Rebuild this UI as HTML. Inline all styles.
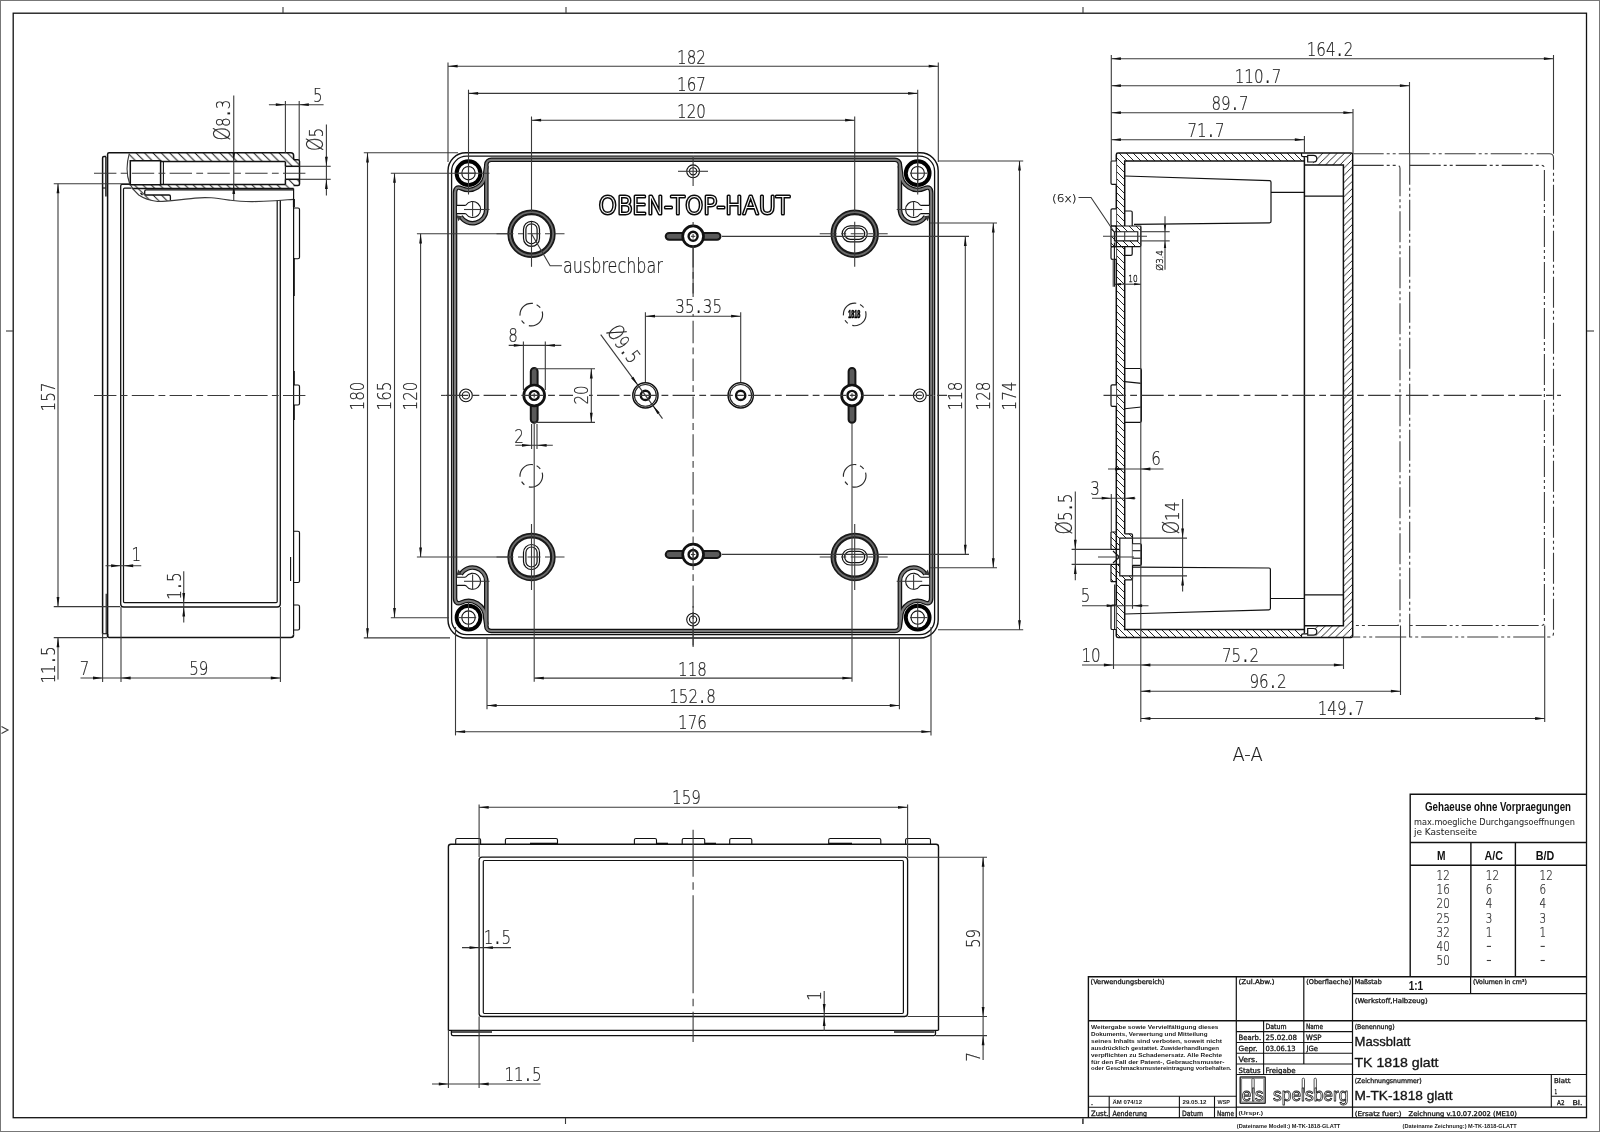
<!DOCTYPE html>
<html><head><meta charset="utf-8"><title>M-TK-1818 glatt</title>
<style>
html,body{margin:0;padding:0;background:#fff;}
svg{display:block;filter:grayscale(1);font-family:"DejaVu Sans Light","DejaVu Sans","Liberation Sans",sans-serif;}
</style></head><body>
<svg width="1600" height="1132" viewBox="0 0 1600 1132">
<rect x="0" y="0" width="1600" height="1132" fill="#fff"/>
<rect x="0.5" y="0.5" width="1599" height="1131" fill="none" stroke="#777" stroke-width="1"/>
<rect x="13.2" y="13.2" width="1573.3" height="1104.5" fill="none" stroke="#111" stroke-width="1.3"/>
<line x1="283.00" y1="7.00" x2="283.00" y2="13.00" stroke="#3a3a3a" stroke-width="1.1"/>
<line x1="566.00" y1="7.00" x2="566.00" y2="13.00" stroke="#3a3a3a" stroke-width="1.1"/>
<line x1="1083.00" y1="7.00" x2="1083.00" y2="13.00" stroke="#3a3a3a" stroke-width="1.1"/>
<line x1="565.50" y1="1118.00" x2="565.50" y2="1124.00" stroke="#3a3a3a" stroke-width="1.1"/>
<line x1="1083.00" y1="1118.00" x2="1083.00" y2="1124.00" stroke="#3a3a3a" stroke-width="1.1"/>
<line x1="6.00" y1="331.00" x2="13.00" y2="331.00" stroke="#3a3a3a" stroke-width="1.1"/>
<line x1="1587.00" y1="331.00" x2="1594.00" y2="331.00" stroke="#3a3a3a" stroke-width="1.1"/>
<path d="M1.5,726.5 L8,730 L1.5,733.5" stroke="#3a3a3a" stroke-width="1.1" fill="none" />
<g transform="translate(693.1,395.4) scale(1,1) translate(-693.1,-395.4)">
<path d="M693.1,152.8 H466 A18,18 0 0 0 448,170.8 V395.4" stroke="#111" stroke-width="1.4" fill="none" />
<path d="M693.1,156.2 H466.6 A15,15 0 0 0 451.6,171.2 V395.4" stroke="#111" stroke-width="1.3" fill="none" />
<path d="M693.1,159.8 H491.3 A5,5 0 0 0 486.3,164.6 V209.5 A13.8,13.8 0 0 1 460.6,216.4" stroke="#111" stroke-width="4.6" fill="none" />
<path d="M486.3,166 L485.2,173.2 A16.7,16.7 0 0 1 461.44,188.33 C457,186.3 455,188.5 455,193 V395.4" stroke="#111" stroke-width="4.6" fill="none" />
<path d="M693.1,159.8 H491.3 A5,5 0 0 0 486.3,164.6 V209.5 A13.8,13.8 0 0 1 460.6,216.4" stroke="#7a7a7a" stroke-width="2.2" fill="none" />
<path d="M486.3,166 L485.2,173.2 A16.7,16.7 0 0 1 461.44,188.33 C457,186.3 455,188.5 455,193 V395.4" stroke="#7a7a7a" stroke-width="2.2" fill="none" />
<circle cx="468.50" cy="173.20" r="11.90" stroke="#000" stroke-width="3.9" fill="#fff"/>
<circle cx="468.50" cy="173.20" r="6.70" stroke="#111" stroke-width="1.1" fill="none"/>
<line x1="468.50" y1="162.00" x2="468.50" y2="188.60" stroke="#3a3a3a" stroke-width="1.1"/>
<line x1="458.60" y1="173.20" x2="476.20" y2="173.20" stroke="#3a3a3a" stroke-width="1.1"/>
<path d="M457,205.4 H464.8 L466,205 A8,8 0 1 1 466,214 L464.8,213.6 H457" stroke="#111" stroke-width="1.1" fill="#fff" />
<line x1="464.00" y1="209.50" x2="489.50" y2="209.50" stroke="#3a3a3a" stroke-width="1.1"/>
<line x1="472.60" y1="201.50" x2="472.60" y2="216.40" stroke="#3a3a3a" stroke-width="1.1"/>
<path d="M457.2,216 L461,216.6 L458.6,220 Z" stroke="#333" stroke-width="1.1" fill="#444" />
</g>
<g transform="translate(693.1,395.4) scale(1,-1) translate(-693.1,-395.4)">
<path d="M693.1,152.8 H466 A18,18 0 0 0 448,170.8 V395.4" stroke="#111" stroke-width="1.4" fill="none" />
<path d="M693.1,156.2 H466.6 A15,15 0 0 0 451.6,171.2 V395.4" stroke="#111" stroke-width="1.3" fill="none" />
<path d="M693.1,159.8 H491.3 A5,5 0 0 0 486.3,164.6 V209.5 A13.8,13.8 0 0 1 460.6,216.4" stroke="#111" stroke-width="4.6" fill="none" />
<path d="M486.3,166 L485.2,173.2 A16.7,16.7 0 0 1 461.44,188.33 C457,186.3 455,188.5 455,193 V395.4" stroke="#111" stroke-width="4.6" fill="none" />
<path d="M693.1,159.8 H491.3 A5,5 0 0 0 486.3,164.6 V209.5 A13.8,13.8 0 0 1 460.6,216.4" stroke="#7a7a7a" stroke-width="2.2" fill="none" />
<path d="M486.3,166 L485.2,173.2 A16.7,16.7 0 0 1 461.44,188.33 C457,186.3 455,188.5 455,193 V395.4" stroke="#7a7a7a" stroke-width="2.2" fill="none" />
<circle cx="468.50" cy="173.20" r="11.90" stroke="#000" stroke-width="3.9" fill="#fff"/>
<circle cx="468.50" cy="173.20" r="6.70" stroke="#111" stroke-width="1.1" fill="none"/>
<line x1="468.50" y1="162.00" x2="468.50" y2="188.60" stroke="#3a3a3a" stroke-width="1.1"/>
<line x1="458.60" y1="173.20" x2="476.20" y2="173.20" stroke="#3a3a3a" stroke-width="1.1"/>
<path d="M457,205.4 H464.8 L466,205 A8,8 0 1 1 466,214 L464.8,213.6 H457" stroke="#111" stroke-width="1.1" fill="#fff" />
<line x1="464.00" y1="209.50" x2="489.50" y2="209.50" stroke="#3a3a3a" stroke-width="1.1"/>
<line x1="472.60" y1="201.50" x2="472.60" y2="216.40" stroke="#3a3a3a" stroke-width="1.1"/>
<path d="M457.2,216 L461,216.6 L458.6,220 Z" stroke="#333" stroke-width="1.1" fill="#444" />
</g>
<g transform="translate(693.1,395.4) scale(-1,1) translate(-693.1,-395.4)">
<path d="M693.1,152.8 H466 A18,18 0 0 0 448,170.8 V395.4" stroke="#111" stroke-width="1.4" fill="none" />
<path d="M693.1,156.2 H466.6 A15,15 0 0 0 451.6,171.2 V395.4" stroke="#111" stroke-width="1.3" fill="none" />
<path d="M693.1,159.8 H491.3 A5,5 0 0 0 486.3,164.6 V209.5 A13.8,13.8 0 0 1 460.6,216.4" stroke="#111" stroke-width="4.6" fill="none" />
<path d="M486.3,166 L485.2,173.2 A16.7,16.7 0 0 1 461.44,188.33 C457,186.3 455,188.5 455,193 V395.4" stroke="#111" stroke-width="4.6" fill="none" />
<path d="M693.1,159.8 H491.3 A5,5 0 0 0 486.3,164.6 V209.5 A13.8,13.8 0 0 1 460.6,216.4" stroke="#7a7a7a" stroke-width="2.2" fill="none" />
<path d="M486.3,166 L485.2,173.2 A16.7,16.7 0 0 1 461.44,188.33 C457,186.3 455,188.5 455,193 V395.4" stroke="#7a7a7a" stroke-width="2.2" fill="none" />
<circle cx="468.50" cy="173.20" r="11.90" stroke="#000" stroke-width="3.9" fill="#fff"/>
<circle cx="468.50" cy="173.20" r="6.70" stroke="#111" stroke-width="1.1" fill="none"/>
<line x1="468.50" y1="162.00" x2="468.50" y2="188.60" stroke="#3a3a3a" stroke-width="1.1"/>
<line x1="458.60" y1="173.20" x2="476.20" y2="173.20" stroke="#3a3a3a" stroke-width="1.1"/>
<path d="M457,205.4 H464.8 L466,205 A8,8 0 1 1 466,214 L464.8,213.6 H457" stroke="#111" stroke-width="1.1" fill="#fff" />
<line x1="464.00" y1="209.50" x2="489.50" y2="209.50" stroke="#3a3a3a" stroke-width="1.1"/>
<line x1="472.60" y1="201.50" x2="472.60" y2="216.40" stroke="#3a3a3a" stroke-width="1.1"/>
<path d="M457.2,216 L461,216.6 L458.6,220 Z" stroke="#333" stroke-width="1.1" fill="#444" />
</g>
<g transform="translate(693.1,395.4) scale(-1,-1) translate(-693.1,-395.4)">
<path d="M693.1,152.8 H466 A18,18 0 0 0 448,170.8 V395.4" stroke="#111" stroke-width="1.4" fill="none" />
<path d="M693.1,156.2 H466.6 A15,15 0 0 0 451.6,171.2 V395.4" stroke="#111" stroke-width="1.3" fill="none" />
<path d="M693.1,159.8 H491.3 A5,5 0 0 0 486.3,164.6 V209.5 A13.8,13.8 0 0 1 460.6,216.4" stroke="#111" stroke-width="4.6" fill="none" />
<path d="M486.3,166 L485.2,173.2 A16.7,16.7 0 0 1 461.44,188.33 C457,186.3 455,188.5 455,193 V395.4" stroke="#111" stroke-width="4.6" fill="none" />
<path d="M693.1,159.8 H491.3 A5,5 0 0 0 486.3,164.6 V209.5 A13.8,13.8 0 0 1 460.6,216.4" stroke="#7a7a7a" stroke-width="2.2" fill="none" />
<path d="M486.3,166 L485.2,173.2 A16.7,16.7 0 0 1 461.44,188.33 C457,186.3 455,188.5 455,193 V395.4" stroke="#7a7a7a" stroke-width="2.2" fill="none" />
<circle cx="468.50" cy="173.20" r="11.90" stroke="#000" stroke-width="3.9" fill="#fff"/>
<circle cx="468.50" cy="173.20" r="6.70" stroke="#111" stroke-width="1.1" fill="none"/>
<line x1="468.50" y1="162.00" x2="468.50" y2="188.60" stroke="#3a3a3a" stroke-width="1.1"/>
<line x1="458.60" y1="173.20" x2="476.20" y2="173.20" stroke="#3a3a3a" stroke-width="1.1"/>
<path d="M457,205.4 H464.8 L466,205 A8,8 0 1 1 466,214 L464.8,213.6 H457" stroke="#111" stroke-width="1.1" fill="#fff" />
<line x1="464.00" y1="209.50" x2="489.50" y2="209.50" stroke="#3a3a3a" stroke-width="1.1"/>
<line x1="472.60" y1="201.50" x2="472.60" y2="216.40" stroke="#3a3a3a" stroke-width="1.1"/>
<path d="M457.2,216 L461,216.6 L458.6,220 Z" stroke="#333" stroke-width="1.1" fill="#444" />
</g>
<circle cx="531.50" cy="233.80" r="21.40" stroke="#1a1a1a" stroke-width="5.6" fill="#fff"/>
<circle cx="531.50" cy="233.80" r="21.60" stroke="#6a6a6a" stroke-width="1.8" fill="none"/>
<rect x="523.50" y="221.30" width="16.00" height="25.00" rx="8" stroke="#111" stroke-width="1.2" fill="none"/>
<rect x="525.90" y="223.80" width="11.20" height="20.00" rx="5.6" stroke="#111" stroke-width="1.2" fill="none"/>
<line x1="496.50" y1="233.80" x2="564.50" y2="233.80" stroke="#3a3a3a" stroke-width="1.1" stroke-dasharray="17 4.5 5 4.5 13 4.5 5 4.5 17"/>
<line x1="531.50" y1="221.80" x2="531.50" y2="266.80" stroke="#3a3a3a" stroke-width="1.1"/>
<circle cx="854.70" cy="233.80" r="21.40" stroke="#1a1a1a" stroke-width="5.6" fill="#fff"/>
<circle cx="854.70" cy="233.80" r="21.60" stroke="#6a6a6a" stroke-width="1.8" fill="none"/>
<rect x="842.20" y="225.80" width="25.00" height="16.00" rx="8" stroke="#111" stroke-width="1.2" fill="none"/>
<rect x="844.70" y="228.20" width="20.00" height="11.20" rx="5.6" stroke="#111" stroke-width="1.2" fill="none"/>
<line x1="819.70" y1="233.80" x2="887.70" y2="233.80" stroke="#3a3a3a" stroke-width="1.1" stroke-dasharray="17 4.5 5 4.5 13 4.5 5 4.5 17"/>
<line x1="854.70" y1="221.80" x2="854.70" y2="266.80" stroke="#3a3a3a" stroke-width="1.1"/>
<circle cx="531.50" cy="557.00" r="21.40" stroke="#1a1a1a" stroke-width="5.6" fill="#fff"/>
<circle cx="531.50" cy="557.00" r="21.60" stroke="#6a6a6a" stroke-width="1.8" fill="none"/>
<rect x="523.50" y="544.50" width="16.00" height="25.00" rx="8" stroke="#111" stroke-width="1.2" fill="none"/>
<rect x="525.90" y="547.00" width="11.20" height="20.00" rx="5.6" stroke="#111" stroke-width="1.2" fill="none"/>
<line x1="496.50" y1="557.00" x2="564.50" y2="557.00" stroke="#3a3a3a" stroke-width="1.1" stroke-dasharray="17 4.5 5 4.5 13 4.5 5 4.5 17"/>
<line x1="531.50" y1="524.00" x2="531.50" y2="590.00" stroke="#3a3a3a" stroke-width="1.1"/>
<circle cx="854.70" cy="557.00" r="21.40" stroke="#1a1a1a" stroke-width="5.6" fill="#fff"/>
<circle cx="854.70" cy="557.00" r="21.60" stroke="#6a6a6a" stroke-width="1.8" fill="none"/>
<rect x="842.20" y="549.00" width="25.00" height="16.00" rx="8" stroke="#111" stroke-width="1.2" fill="none"/>
<rect x="844.70" y="551.40" width="20.00" height="11.20" rx="5.6" stroke="#111" stroke-width="1.2" fill="none"/>
<line x1="819.70" y1="557.00" x2="887.70" y2="557.00" stroke="#3a3a3a" stroke-width="1.1" stroke-dasharray="17 4.5 5 4.5 13 4.5 5 4.5 17"/>
<line x1="854.70" y1="524.00" x2="854.70" y2="590.00" stroke="#3a3a3a" stroke-width="1.1"/>
<g transform="translate(693.1,236.3) rotate(0)">
<rect x="-27.40" y="-3.40" width="54.80" height="6.80" rx="3.4" stroke="#151515" stroke-width="2.0" fill="#5a5a5a"/>
<circle cx="0.00" cy="0.00" r="10.40" stroke="#111" stroke-width="2.7" fill="#fff"/>
<circle cx="0.00" cy="0.00" r="4.50" stroke="#111" stroke-width="2.4" fill="#fff"/>
<line x1="-2.20" y1="0.00" x2="2.20" y2="0.00" stroke="#3a3a3a" stroke-width="1.1"/>
<line x1="0.00" y1="-2.20" x2="0.00" y2="2.20" stroke="#3a3a3a" stroke-width="1.1"/>
</g>
<g transform="translate(693.1,554.5) rotate(0)">
<rect x="-27.40" y="-3.40" width="54.80" height="6.80" rx="3.4" stroke="#151515" stroke-width="2.0" fill="#5a5a5a"/>
<circle cx="0.00" cy="0.00" r="10.40" stroke="#111" stroke-width="2.7" fill="#fff"/>
<circle cx="0.00" cy="0.00" r="4.50" stroke="#111" stroke-width="2.4" fill="#fff"/>
<line x1="-2.20" y1="0.00" x2="2.20" y2="0.00" stroke="#3a3a3a" stroke-width="1.1"/>
<line x1="0.00" y1="-2.20" x2="0.00" y2="2.20" stroke="#3a3a3a" stroke-width="1.1"/>
</g>
<g transform="translate(534.2,395.4) rotate(90)">
<rect x="-27.40" y="-3.40" width="54.80" height="6.80" rx="3.4" stroke="#151515" stroke-width="2.0" fill="#5a5a5a"/>
<circle cx="0.00" cy="0.00" r="10.40" stroke="#111" stroke-width="2.7" fill="#fff"/>
<circle cx="0.00" cy="0.00" r="4.50" stroke="#111" stroke-width="2.4" fill="#fff"/>
<line x1="-2.20" y1="0.00" x2="2.20" y2="0.00" stroke="#3a3a3a" stroke-width="1.1"/>
<line x1="0.00" y1="-2.20" x2="0.00" y2="2.20" stroke="#3a3a3a" stroke-width="1.1"/>
</g>
<g transform="translate(852.0,395.4) rotate(90)">
<rect x="-27.40" y="-3.40" width="54.80" height="6.80" rx="3.4" stroke="#151515" stroke-width="2.0" fill="#5a5a5a"/>
<circle cx="0.00" cy="0.00" r="10.40" stroke="#111" stroke-width="2.7" fill="#fff"/>
<circle cx="0.00" cy="0.00" r="4.50" stroke="#111" stroke-width="2.4" fill="#fff"/>
<line x1="-2.20" y1="0.00" x2="2.20" y2="0.00" stroke="#3a3a3a" stroke-width="1.1"/>
<line x1="0.00" y1="-2.20" x2="0.00" y2="2.20" stroke="#3a3a3a" stroke-width="1.1"/>
</g>
<circle cx="645.40" cy="395.40" r="12.60" stroke="#111" stroke-width="1.5" fill="#fff"/>
<circle cx="645.40" cy="395.40" r="10.90" stroke="#222" stroke-width="1.1" fill="none"/>
<circle cx="645.40" cy="395.40" r="4.60" stroke="#111" stroke-width="2.4" fill="#fff"/>
<circle cx="740.70" cy="395.40" r="12.60" stroke="#111" stroke-width="1.5" fill="#fff"/>
<circle cx="740.70" cy="395.40" r="10.90" stroke="#222" stroke-width="1.1" fill="none"/>
<circle cx="740.70" cy="395.40" r="4.60" stroke="#111" stroke-width="2.4" fill="#fff"/>
<circle cx="693.10" cy="171.30" r="6.40" stroke="#111" stroke-width="1.1" fill="#fff"/>
<circle cx="693.10" cy="171.30" r="3.60" stroke="#111" stroke-width="1.1" fill="none"/>
<circle cx="693.10" cy="619.60" r="6.40" stroke="#111" stroke-width="1.1" fill="#fff"/>
<circle cx="693.10" cy="619.60" r="3.60" stroke="#111" stroke-width="1.1" fill="none"/>
<circle cx="465.90" cy="395.40" r="6.40" stroke="#111" stroke-width="1.1" fill="#fff"/>
<circle cx="465.90" cy="395.40" r="3.60" stroke="#111" stroke-width="1.1" fill="none"/>
<circle cx="919.80" cy="395.40" r="6.40" stroke="#111" stroke-width="1.1" fill="#fff"/>
<circle cx="919.80" cy="395.40" r="3.60" stroke="#111" stroke-width="1.1" fill="none"/>
<line x1="693.10" y1="157.00" x2="693.10" y2="186.00" stroke="#3a3a3a" stroke-width="1.1"/>
<line x1="678.00" y1="171.30" x2="708.00" y2="171.30" stroke="#3a3a3a" stroke-width="1.1"/>
<line x1="693.10" y1="606.00" x2="693.10" y2="647.00" stroke="#3a3a3a" stroke-width="1.1"/>
<circle cx="531.3" cy="314.6" r="11.3" fill="none" stroke="#2a2a2a" stroke-width="1.15" stroke-dasharray="23.7 4.9 4.1 5.1 20.3 3.9 4.7 4.2" stroke-dashoffset="3.55"/>
<circle cx="531.3" cy="475.8" r="11.3" fill="none" stroke="#2a2a2a" stroke-width="1.15" stroke-dasharray="23.7 4.9 4.1 5.1 20.3 3.9 4.7 4.2" stroke-dashoffset="3.55"/>
<circle cx="854.7" cy="475.8" r="11.3" fill="none" stroke="#2a2a2a" stroke-width="1.15" stroke-dasharray="23.7 4.9 4.1 5.1 20.3 3.9 4.7 4.2" stroke-dashoffset="3.55"/>
<circle cx="854.7" cy="314.4" r="11.3" fill="none" stroke="#2a2a2a" stroke-width="1.15" stroke-dasharray="23.7 4.9 4.1 5.1 20.3 3.9 4.7 4.2" stroke-dashoffset="3.55"/>
<text x="854.30" y="318.10" font-size="10" text-anchor="middle" fill="#000" textLength="12.20" lengthAdjust="spacingAndGlyphs" font-family='"Liberation Sans",sans-serif' font-weight="bold" stroke="#000" stroke-width="0.7">1818</text>
<line x1="441.00" y1="395.40" x2="445.80" y2="395.40" stroke="#3a3a3a" stroke-width="1.1"/>
<line x1="445.80" y1="395.40" x2="947.00" y2="395.40" stroke="#3a3a3a" stroke-width="1.1" stroke-dasharray="22.4 4.3 6.8 4.3"/>
<line x1="693.10" y1="245.20" x2="693.10" y2="650.00" stroke="#3a3a3a" stroke-width="1.1" stroke-dasharray="22.4 4.3 6.8 4.3"/>
<line x1="693.10" y1="222.00" x2="693.10" y2="226.00" stroke="#3a3a3a" stroke-width="1.1"/>
<line x1="693.10" y1="247.00" x2="693.10" y2="293.60" stroke="#3a3a3a" stroke-width="1.1"/>
<text x="694.30" y="214.30" font-size="24.3" text-anchor="middle" fill="#fff" textLength="191.50" lengthAdjust="spacingAndGlyphs" font-family='"DejaVu Sans Light","DejaVu Sans",sans-serif' stroke="#0a0a0a" stroke-width="3.1" stroke-linejoin="round" stroke-linecap="round" paint-order="stroke">OBEN-TOP-HAUT</text>
<path d="M531.5,233.8 L550.1,265.7 H562" stroke="#3a3a3a" stroke-width="1.1" fill="none" />
<text transform="translate(563.00 272.50) scale(0.78 1)" font-size="20.50" text-anchor="start" fill="#1c1c1c" stroke="#1c1c1c" stroke-width="0.2">ausbrechbar</text>
<line x1="448.00" y1="62.50" x2="448.00" y2="162.00" stroke="#3a3a3a" stroke-width="1.1"/>
<line x1="938.30" y1="62.50" x2="938.30" y2="162.00" stroke="#3a3a3a" stroke-width="1.1"/>
<line x1="448.00" y1="66.20" x2="938.30" y2="66.20" stroke="#3a3a3a" stroke-width="1.1"/>
<polygon points="448.00,66.20 457.60,64.80 457.60,67.60" fill="#111"/>
<polygon points="938.30,66.20 928.70,67.60 928.70,64.80" fill="#111"/>
<text transform="translate(691.50 63.80) scale(0.76 1)" font-size="19.90" text-anchor="middle" fill="#1c1c1c" stroke="#1c1c1c" stroke-width="0.2">182</text>
<line x1="468.50" y1="89.70" x2="468.50" y2="194.50" stroke="#3a3a3a" stroke-width="1.1"/>
<line x1="917.70" y1="89.70" x2="917.70" y2="194.50" stroke="#3a3a3a" stroke-width="1.1"/>
<line x1="468.50" y1="93.40" x2="917.70" y2="93.40" stroke="#3a3a3a" stroke-width="1.1"/>
<polygon points="468.50,93.40 478.10,92.00 478.10,94.80" fill="#111"/>
<polygon points="917.70,93.40 908.10,94.80 908.10,92.00" fill="#111"/>
<text transform="translate(691.50 91.00) scale(0.76 1)" font-size="19.90" text-anchor="middle" fill="#1c1c1c" stroke="#1c1c1c" stroke-width="0.2">167</text>
<line x1="531.50" y1="116.50" x2="531.50" y2="212.00" stroke="#3a3a3a" stroke-width="1.1"/>
<line x1="854.70" y1="116.50" x2="854.70" y2="212.00" stroke="#3a3a3a" stroke-width="1.1"/>
<line x1="531.50" y1="120.20" x2="854.70" y2="120.20" stroke="#3a3a3a" stroke-width="1.1"/>
<polygon points="531.50,120.20 541.10,118.80 541.10,121.60" fill="#111"/>
<polygon points="854.70,120.20 845.10,121.60 845.10,118.80" fill="#111"/>
<text transform="translate(691.50 117.80) scale(0.76 1)" font-size="19.90" text-anchor="middle" fill="#1c1c1c" stroke="#1c1c1c" stroke-width="0.2">120</text>
<line x1="534.20" y1="423.00" x2="534.20" y2="681.80" stroke="#3a3a3a" stroke-width="1.1"/>
<line x1="852.00" y1="423.00" x2="852.00" y2="681.80" stroke="#3a3a3a" stroke-width="1.1"/>
<line x1="534.20" y1="678.10" x2="852.00" y2="678.10" stroke="#3a3a3a" stroke-width="1.1"/>
<polygon points="534.20,678.10 543.80,676.70 543.80,679.50" fill="#111"/>
<polygon points="852.00,678.10 842.40,679.50 842.40,676.70" fill="#111"/>
<text transform="translate(692.50 675.70) scale(0.76 1)" font-size="19.90" text-anchor="middle" fill="#1c1c1c" stroke="#1c1c1c" stroke-width="0.2">118</text>
<line x1="487.00" y1="637.00" x2="487.00" y2="709.20" stroke="#3a3a3a" stroke-width="1.1"/>
<line x1="899.40" y1="637.00" x2="899.40" y2="709.20" stroke="#3a3a3a" stroke-width="1.1"/>
<line x1="487.00" y1="705.50" x2="899.40" y2="705.50" stroke="#3a3a3a" stroke-width="1.1"/>
<polygon points="487.00,705.50 496.60,704.10 496.60,706.90" fill="#111"/>
<polygon points="899.40,705.50 889.80,706.90 889.80,704.10" fill="#111"/>
<text transform="translate(692.50 703.10) scale(0.76 1)" font-size="19.90" text-anchor="middle" fill="#1c1c1c" stroke="#1c1c1c" stroke-width="0.2">152<tspan dx="2.24" font-family="DejaVu Sans,sans-serif">.</tspan><tspan dx="2.24">8</tspan></text>
<line x1="455.50" y1="627.00" x2="455.50" y2="735.40" stroke="#3a3a3a" stroke-width="1.1"/>
<line x1="931.00" y1="627.00" x2="931.00" y2="735.40" stroke="#3a3a3a" stroke-width="1.1"/>
<line x1="455.50" y1="731.70" x2="931.00" y2="731.70" stroke="#3a3a3a" stroke-width="1.1"/>
<polygon points="455.50,731.70 465.10,730.30 465.10,733.10" fill="#111"/>
<polygon points="931.00,731.70 921.40,733.10 921.40,730.30" fill="#111"/>
<text transform="translate(692.50 729.30) scale(0.76 1)" font-size="19.90" text-anchor="middle" fill="#1c1c1c" stroke="#1c1c1c" stroke-width="0.2">176</text>
<line x1="363.80" y1="152.80" x2="458.00" y2="152.80" stroke="#3a3a3a" stroke-width="1.1"/>
<line x1="363.80" y1="637.90" x2="450.00" y2="637.90" stroke="#3a3a3a" stroke-width="1.1"/>
<line x1="367.50" y1="152.80" x2="367.50" y2="637.90" stroke="#3a3a3a" stroke-width="1.1"/>
<polygon points="367.50,152.80 368.90,162.40 366.10,162.40" fill="#111"/>
<polygon points="367.50,637.90 366.10,628.30 368.90,628.30" fill="#111"/>
<text transform="translate(364.30 396.00) rotate(-90) scale(0.76 1)" font-size="19.90" text-anchor="middle" fill="#1c1c1c" stroke="#1c1c1c" stroke-width="0.2">180</text>
<line x1="390.80" y1="173.20" x2="489.50" y2="173.20" stroke="#3a3a3a" stroke-width="1.1"/>
<line x1="390.80" y1="617.70" x2="449.00" y2="617.70" stroke="#3a3a3a" stroke-width="1.1"/>
<line x1="394.50" y1="173.20" x2="394.50" y2="617.70" stroke="#3a3a3a" stroke-width="1.1"/>
<polygon points="394.50,173.20 395.90,182.80 393.10,182.80" fill="#111"/>
<polygon points="394.50,617.70 393.10,608.10 395.90,608.10" fill="#111"/>
<text transform="translate(391.30 396.00) rotate(-90) scale(0.76 1)" font-size="19.90" text-anchor="middle" fill="#1c1c1c" stroke="#1c1c1c" stroke-width="0.2">165</text>
<line x1="416.90" y1="233.80" x2="512.00" y2="233.80" stroke="#3a3a3a" stroke-width="1.1"/>
<line x1="416.90" y1="557.00" x2="512.00" y2="557.00" stroke="#3a3a3a" stroke-width="1.1"/>
<line x1="420.60" y1="233.80" x2="420.60" y2="557.00" stroke="#3a3a3a" stroke-width="1.1"/>
<polygon points="420.60,233.80 422.00,243.40 419.20,243.40" fill="#111"/>
<polygon points="420.60,557.00 419.20,547.40 422.00,547.40" fill="#111"/>
<text transform="translate(417.40 396.00) rotate(-90) scale(0.76 1)" font-size="19.90" text-anchor="middle" fill="#1c1c1c" stroke="#1c1c1c" stroke-width="0.2">120</text>
<line x1="722.00" y1="236.40" x2="969.00" y2="236.40" stroke="#3a3a3a" stroke-width="1.1"/>
<line x1="722.00" y1="554.40" x2="969.00" y2="554.40" stroke="#3a3a3a" stroke-width="1.1"/>
<line x1="965.30" y1="236.40" x2="965.30" y2="554.40" stroke="#3a3a3a" stroke-width="1.1"/>
<polygon points="965.30,236.40 966.70,246.00 963.90,246.00" fill="#111"/>
<polygon points="965.30,554.40 963.90,544.80 966.70,544.80" fill="#111"/>
<text transform="translate(962.10 396.00) rotate(-90) scale(0.76 1)" font-size="19.90" text-anchor="middle" fill="#1c1c1c" stroke="#1c1c1c" stroke-width="0.2">118</text>
<line x1="930.00" y1="223.00" x2="997.00" y2="223.00" stroke="#3a3a3a" stroke-width="1.1"/>
<line x1="930.00" y1="567.80" x2="997.00" y2="567.80" stroke="#3a3a3a" stroke-width="1.1"/>
<line x1="993.30" y1="223.00" x2="993.30" y2="567.80" stroke="#3a3a3a" stroke-width="1.1"/>
<polygon points="993.30,223.00 994.70,232.60 991.90,232.60" fill="#111"/>
<polygon points="993.30,567.80 991.90,558.20 994.70,558.20" fill="#111"/>
<text transform="translate(990.10 396.00) rotate(-90) scale(0.76 1)" font-size="19.90" text-anchor="middle" fill="#1c1c1c" stroke="#1c1c1c" stroke-width="0.2">128</text>
<line x1="938.00" y1="161.00" x2="1023.20" y2="161.00" stroke="#3a3a3a" stroke-width="1.1"/>
<line x1="938.00" y1="629.80" x2="1023.20" y2="629.80" stroke="#3a3a3a" stroke-width="1.1"/>
<line x1="1019.50" y1="161.00" x2="1019.50" y2="629.80" stroke="#3a3a3a" stroke-width="1.1"/>
<polygon points="1019.50,161.00 1020.90,170.60 1018.10,170.60" fill="#111"/>
<polygon points="1019.50,629.80 1018.10,620.20 1020.90,620.20" fill="#111"/>
<text transform="translate(1016.30 396.00) rotate(-90) scale(0.76 1)" font-size="19.90" text-anchor="middle" fill="#1c1c1c" stroke="#1c1c1c" stroke-width="0.2">174</text>
<line x1="645.40" y1="312.30" x2="645.40" y2="382.00" stroke="#3a3a3a" stroke-width="1.1"/>
<line x1="740.70" y1="312.30" x2="740.70" y2="382.00" stroke="#3a3a3a" stroke-width="1.1"/>
<rect x="676.00" y="297.00" width="46.00" height="17.00" rx="0" stroke="none" stroke-width="0" fill="#fff"/>
<line x1="645.40" y1="316.20" x2="740.70" y2="316.20" stroke="#3a3a3a" stroke-width="1.1"/>
<polygon points="645.40,316.20 655.00,314.80 655.00,317.60" fill="#111"/>
<polygon points="740.70,316.20 731.10,317.60 731.10,314.80" fill="#111"/>
<text transform="translate(698.70 313.00) scale(0.76 1)" font-size="19.90" text-anchor="middle" fill="#1c1c1c" stroke="#1c1c1c" stroke-width="0.2">35<tspan dx="2.24" font-family="DejaVu Sans,sans-serif">.</tspan><tspan dx="2.24">35</tspan></text>
<line x1="523.40" y1="341.60" x2="523.40" y2="390.00" stroke="#3a3a3a" stroke-width="1.1"/>
<line x1="545.30" y1="341.60" x2="545.30" y2="390.00" stroke="#3a3a3a" stroke-width="1.1"/>
<line x1="508.70" y1="345.40" x2="561.30" y2="345.40" stroke="#3a3a3a" stroke-width="1.1"/>
<polygon points="523.40,345.40 513.80,346.80 513.80,344.00" fill="#111"/>
<polygon points="545.30,345.40 554.90,344.00 554.90,346.80" fill="#111"/>
<text transform="translate(513.00 341.80) scale(0.76 1)" font-size="19.90" text-anchor="middle" fill="#1c1c1c" stroke="#1c1c1c" stroke-width="0.2">8</text>
<line x1="534.20" y1="368.80" x2="595.00" y2="368.80" stroke="#3a3a3a" stroke-width="1.1"/>
<line x1="534.20" y1="422.40" x2="595.00" y2="422.40" stroke="#3a3a3a" stroke-width="1.1"/>
<rect x="573.00" y="384.00" width="16.00" height="22.00" rx="0" stroke="none" stroke-width="0" fill="#fff"/>
<line x1="591.30" y1="368.80" x2="591.30" y2="422.40" stroke="#3a3a3a" stroke-width="1.1"/>
<polygon points="591.30,368.80 592.70,378.40 589.90,378.40" fill="#111"/>
<polygon points="591.30,422.40 589.90,412.80 592.70,412.80" fill="#111"/>
<text transform="translate(588.00 395.00) rotate(-90) scale(0.76 1)" font-size="19.90" text-anchor="middle" fill="#1c1c1c" stroke="#1c1c1c" stroke-width="0.2">20</text>
<line x1="531.60" y1="424.00" x2="531.60" y2="449.00" stroke="#3a3a3a" stroke-width="1.1"/>
<line x1="537.00" y1="424.00" x2="537.00" y2="449.00" stroke="#3a3a3a" stroke-width="1.1"/>
<line x1="515.30" y1="445.30" x2="552.80" y2="445.30" stroke="#3a3a3a" stroke-width="1.1"/>
<polygon points="531.60,445.30 522.00,446.70 522.00,443.90" fill="#111"/>
<polygon points="537.00,445.30 546.60,443.90 546.60,446.70" fill="#111"/>
<text transform="translate(519.00 442.70) scale(0.76 1)" font-size="19.90" text-anchor="middle" fill="#1c1c1c" stroke="#1c1c1c" stroke-width="0.2">2</text>
<line x1="600.70" y1="334.60" x2="662.50" y2="418.60" stroke="#3a3a3a" stroke-width="1.1"/>
<polygon points="637.94,385.25 631.12,378.34 633.38,376.68" fill="#111"/>
<polygon points="652.86,405.55 659.68,412.46 657.42,414.12" fill="#111"/>
<text transform="translate(618.00 348.30) rotate(53.67677223794085) scale(0.76 1)" font-size="19.90" text-anchor="middle" fill="#1c1c1c" stroke="#1c1c1c" stroke-width="0.2"><tspan font-size="22.49">Ø</tspan>9<tspan dx="2.24" font-family="DejaVu Sans,sans-serif">.</tspan><tspan dx="2.24">5</tspan></text>
<defs>
<pattern id="hA" width="8.4" height="8.4" patternUnits="userSpaceOnUse"><path d="M-1,-1 L9.4,9.4 M-1,7.4 L1,9.4 M7.4,-1 L9.4,1" stroke="#111" stroke-width="0.95" fill="none"/></pattern>
<pattern id="hB" width="4.2" height="4.2" patternUnits="userSpaceOnUse"><path d="M-1,-1 L5.2,5.2 M-1,3.2 L1,5.2 M3.2,-1 L5.2,1" stroke="#111" stroke-width="0.8" fill="none"/></pattern>
<pattern id="hC" width="4.2" height="4.2" patternUnits="userSpaceOnUse"><path d="M-1,5.2 L5.2,-1 M-1,1 L1,-1 M3.2,5.2 L5.2,3.2" stroke="#111" stroke-width="0.8" fill="none"/></pattern>
</defs>
<path d="M129.5,152.8 H290.8 Q293.6,152.8 293.6,155.6 V158.6 Q293.6,159.8 295,159.8 H298 Q299.5,159.8 299.5,161.4 V166.3 H285.4 V161.6 H163.4 V160.8 H130.3 Q128.5,157 129.5,152.8 Z" stroke="none" stroke-width="0" fill="url(#hA)" />
<path d="M131,184.6 H285.4 V179.3 H299.5 V184 Q299.5,185.5 298,185.5 H293.6 V188.6 H131.9 Q130.5,186.5 131,184.6 Z" stroke="none" stroke-width="0" fill="url(#hA)" />
<path d="M131.9,188.6 H144.7 V195 H169.4 Q170.4,195 170.4,196 V200.6 Q160,202 151,200.6 Q139,196.5 131.9,188.6 Z" stroke="none" stroke-width="0" fill="url(#hA)" />
<path d="M108,640 M107.6,637 V154.3 Q107.6,152.8 109.1,152.8 H290.8 Q293.6,152.8 293.6,155.6 V158.6 Q293.6,159.8 295,159.8 H298 Q299.5,159.8 299.5,161.4 V184 Q299.5,185.5 298,185.5 H293.6" stroke="#111" stroke-width="1.5" fill="none" />
<path d="M102.6,633.75 V158 Q102.6,156.6 104,156.6 H106.2" stroke="#111" stroke-width="1.5" fill="none" />
<line x1="105.90" y1="157.00" x2="105.90" y2="196.60" stroke="#111" stroke-width="1.4"/>
<line x1="103.00" y1="188.00" x2="105.50" y2="188.00" stroke="#111" stroke-width="1.1"/>
<line x1="106.20" y1="593.75" x2="106.20" y2="633.75" stroke="#111" stroke-width="1.1"/>
<path d="M102.6,633.75 H107.6" stroke="#111" stroke-width="1.1" fill="none" />
<path d="M130.3,160.8 H160.6 V184.8 H130.3 Z" stroke="#111" stroke-width="1.5" fill="#fff" />
<line x1="163.40" y1="161.60" x2="163.40" y2="184.60" stroke="#111" stroke-width="1.1"/>
<line x1="160.60" y1="161.60" x2="285.40" y2="161.60" stroke="#111" stroke-width="1.5"/>
<line x1="160.60" y1="184.50" x2="285.40" y2="184.50" stroke="#111" stroke-width="1.5"/>
<line x1="285.40" y1="161.60" x2="285.40" y2="166.30" stroke="#111" stroke-width="1.5"/>
<line x1="285.40" y1="179.30" x2="285.40" y2="184.50" stroke="#111" stroke-width="1.5"/>
<line x1="285.40" y1="166.30" x2="299.50" y2="166.30" stroke="#111" stroke-width="1.5"/>
<line x1="285.40" y1="179.30" x2="299.50" y2="179.30" stroke="#111" stroke-width="1.5"/>
<line x1="285.40" y1="166.30" x2="285.40" y2="179.30" stroke="#111" stroke-width="1.1"/>
<line x1="131.90" y1="188.60" x2="293.60" y2="188.60" stroke="#111" stroke-width="1.5"/>
<path d="M293.6,189.9 H146.2 Q144.7,189.9 144.7,191.4 V193.5 Q144.7,195 146.2,195 H169 Q170.4,195 170.4,196.4 V200.6" stroke="#111" stroke-width="1.3" fill="none" />
<path d="M129.3,153.5 Q124.6,170 129.7,183.75 Q132.5,189.5 138.75,195 Q146,200 157.5,201.5 C170,201.2 182.5,199.4 195,198.1 S215,198 230.6,200.3 S262,201.6 275,200.8 S288,199.6 293.6,199.4" stroke="#3a3a3a" stroke-width="1.1" fill="none" />
<line x1="140.50" y1="193.00" x2="142.50" y2="195.00" stroke="#111" stroke-width="1.2"/>
<path d="M131,184.4 H122.2 Q120.7,184.4 120.7,185.9 V604 Q120.7,607 123.7,607 H277.3 Q280.3,607 280.3,604 V200.6" stroke="#111" stroke-width="1.3" fill="none" />
<path d="M131.5,188.1 H124.6 Q123.5,188.1 123.5,189.2 V601.6 Q123.5,602.6 124.5,602.6 H276.2 Q277.2,602.6 277.2,601.6 V200.8" stroke="#111" stroke-width="1.2" fill="none" />
<line x1="293.60" y1="188.60" x2="293.60" y2="634.50" stroke="#111" stroke-width="1.2"/>
<line x1="293.90" y1="199.00" x2="293.90" y2="207.00" stroke="#111" stroke-width="2.0"/>
<path d="M293.6,208 H298 Q299.5,208 299.5,209.5 V257.25 Q299.5,258.75 298,258.75 H293.6" stroke="#111" stroke-width="1.2" fill="none" />
<path d="M293.6,385 H298 Q299.5,385 299.5,386.5 V403.5 Q299.5,405 298,405 H293.6" stroke="#111" stroke-width="1.2" fill="none" />
<path d="M293.6,531.25 H298 Q299.5,531.25 299.5,532.75 V581.0 Q299.5,582.5 298,582.5 H293.6" stroke="#111" stroke-width="1.2" fill="none" />
<path d="M293.6,605 H298 Q299.5,605 299.5,606.5 V628.5 Q299.5,630 298,630 H293.6" stroke="#111" stroke-width="1.2" fill="none" />
<line x1="294.00" y1="258.00" x2="294.00" y2="296.00" stroke="#111" stroke-width="1.6"/>
<line x1="294.00" y1="405.00" x2="294.00" y2="420.00" stroke="#111" stroke-width="1.6"/>
<line x1="294.00" y1="371.00" x2="294.00" y2="385.00" stroke="#111" stroke-width="1.6"/>
<line x1="290.60" y1="557.00" x2="290.60" y2="581.00" stroke="#111" stroke-width="1.1"/>
<path d="M107.6,634 V636 Q107.6,637.6 109.2,637.6 H290.6 Q293.6,637.6 293.6,634.5" stroke="#111" stroke-width="1.5" fill="none" />
<line x1="94.00" y1="173.30" x2="307.00" y2="173.30" stroke="#3a3a3a" stroke-width="1.1" stroke-dasharray="22.4 4.3 6.8 4.3"/>
<line x1="94.00" y1="395.50" x2="307.00" y2="395.50" stroke="#3a3a3a" stroke-width="1.1" stroke-dasharray="22.4 4.3 6.8 4.3"/>
<line x1="233.75" y1="95.60" x2="233.75" y2="200.30" stroke="#3a3a3a" stroke-width="1.1"/>
<polygon points="233.75,161.60 232.35,152.00 235.15,152.00" fill="#111"/>
<polygon points="233.75,184.50 235.15,194.10 232.35,194.10" fill="#111"/>
<text transform="translate(230.00 120.00) rotate(-90) scale(0.76 1)" font-size="19.90" text-anchor="middle" fill="#1c1c1c" stroke="#1c1c1c" stroke-width="0.2"><tspan font-size="22.49">Ø</tspan>8<tspan dx="2.24" font-family="DejaVu Sans,sans-serif">.</tspan><tspan dx="2.24">3</tspan></text>
<line x1="285.40" y1="101.00" x2="285.40" y2="152.80" stroke="#3a3a3a" stroke-width="1.1"/>
<line x1="299.20" y1="101.00" x2="299.20" y2="160.00" stroke="#3a3a3a" stroke-width="1.1"/>
<line x1="268.90" y1="104.70" x2="323.60" y2="104.70" stroke="#3a3a3a" stroke-width="1.1"/>
<polygon points="285.40,104.70 275.80,106.10 275.80,103.30" fill="#111"/>
<polygon points="299.20,104.70 308.80,103.30 308.80,106.10" fill="#111"/>
<text transform="translate(317.80 101.80) scale(0.76 1)" font-size="19.90" text-anchor="middle" fill="#1c1c1c" stroke="#1c1c1c" stroke-width="0.2">5</text>
<line x1="299.50" y1="166.30" x2="330.70" y2="166.30" stroke="#3a3a3a" stroke-width="1.1"/>
<line x1="299.50" y1="179.30" x2="330.70" y2="179.30" stroke="#3a3a3a" stroke-width="1.1"/>
<line x1="326.40" y1="124.50" x2="326.40" y2="195.60" stroke="#3a3a3a" stroke-width="1.1"/>
<polygon points="326.40,166.30 325.00,156.70 327.80,156.70" fill="#111"/>
<polygon points="326.40,179.30 327.80,188.90 325.00,188.90" fill="#111"/>
<text transform="translate(322.80 139.50) rotate(-90) scale(0.76 1)" font-size="19.90" text-anchor="middle" fill="#1c1c1c" stroke="#1c1c1c" stroke-width="0.2"><tspan font-size="22.49">Ø</tspan>5</text>
<line x1="53.75" y1="183.75" x2="130.00" y2="183.75" stroke="#3a3a3a" stroke-width="1.1"/>
<line x1="53.75" y1="606.60" x2="120.00" y2="606.60" stroke="#3a3a3a" stroke-width="1.1"/>
<line x1="58.00" y1="183.75" x2="58.00" y2="606.60" stroke="#3a3a3a" stroke-width="1.1"/>
<polygon points="58.00,183.75 59.40,193.35 56.60,193.35" fill="#111"/>
<polygon points="58.00,606.60 56.60,597.00 59.40,597.00" fill="#111"/>
<text transform="translate(54.60 397.00) rotate(-90) scale(0.76 1)" font-size="19.90" text-anchor="middle" fill="#1c1c1c" stroke="#1c1c1c" stroke-width="0.2">157</text>
<line x1="53.75" y1="637.60" x2="107.00" y2="637.60" stroke="#3a3a3a" stroke-width="1.1"/>
<line x1="58.00" y1="637.60" x2="58.00" y2="679.50" stroke="#3a3a3a" stroke-width="1.1"/>
<polygon points="58.00,637.60 59.40,647.20 56.60,647.20" fill="#111"/>
<text transform="translate(54.60 665.00) rotate(-90) scale(0.76 1)" font-size="19.90" text-anchor="middle" fill="#1c1c1c" stroke="#1c1c1c" stroke-width="0.2">11<tspan dx="2.24" font-family="DejaVu Sans,sans-serif">.</tspan><tspan dx="2.24">5</tspan></text>
<line x1="102.60" y1="634.00" x2="102.60" y2="682.00" stroke="#3a3a3a" stroke-width="1.1"/>
<line x1="121.00" y1="607.00" x2="121.00" y2="682.00" stroke="#3a3a3a" stroke-width="1.1"/>
<line x1="280.40" y1="607.00" x2="280.40" y2="682.00" stroke="#3a3a3a" stroke-width="1.1"/>
<line x1="80.50" y1="678.00" x2="280.40" y2="678.00" stroke="#3a3a3a" stroke-width="1.1"/>
<polygon points="102.60,678.00 93.00,679.40 93.00,676.60" fill="#111"/>
<polygon points="121.00,678.00 130.60,676.60 130.60,679.40" fill="#111"/>
<polygon points="280.40,678.00 270.80,679.40 270.80,676.60" fill="#111"/>
<text transform="translate(84.50 674.60) scale(0.76 1)" font-size="19.90" text-anchor="middle" fill="#1c1c1c" stroke="#1c1c1c" stroke-width="0.2">7</text>
<text transform="translate(198.75 674.60) scale(0.76 1)" font-size="19.90" text-anchor="middle" fill="#1c1c1c" stroke="#1c1c1c" stroke-width="0.2">59</text>
<line x1="105.50" y1="565.75" x2="141.25" y2="565.75" stroke="#3a3a3a" stroke-width="1.1"/>
<polygon points="120.70,565.75 111.10,567.15 111.10,564.35" fill="#111"/>
<polygon points="123.60,565.75 133.20,564.35 133.20,567.15" fill="#111"/>
<text transform="translate(136.30 561.40) scale(0.76 1)" font-size="19.90" text-anchor="middle" fill="#1c1c1c" stroke="#1c1c1c" stroke-width="0.2">1</text>
<line x1="183.75" y1="571.25" x2="183.75" y2="622.50" stroke="#3a3a3a" stroke-width="1.1"/>
<polygon points="183.75,602.60 182.35,593.00 185.15,593.00" fill="#111"/>
<polygon points="183.75,607.00 185.15,616.60 182.35,616.60" fill="#111"/>
<text transform="translate(180.50 586.00) rotate(-90) scale(0.76 1)" font-size="19.90" text-anchor="middle" fill="#1c1c1c" stroke="#1c1c1c" stroke-width="0.2">1<tspan dx="2.24" font-family="DejaVu Sans,sans-serif">.</tspan><tspan dx="2.24">5</tspan></text>
<defs>
<pattern id="hL" width="7" height="7" patternUnits="userSpaceOnUse"><path d="M-1,-1 L8,8 M-1,6 L1,8 M6,-1 L8,1" stroke="#111" stroke-width="0.9" fill="none"/></pattern>
<pattern id="hR" width="7.2" height="7.2" patternUnits="userSpaceOnUse"><path d="M-1,8.2 L8.2,-1 M-1,1 L1,-1 M6.2,8.2 L8.2,6.2" stroke="#111" stroke-width="0.9" fill="none"/></pattern>
</defs>
<path d="M1118.0,153.0 H1301.9 V161.0 H1124.7 V629.5 H1301.9 V637.5 H1118.0 Q1116.3,637.5 1116.3,635.8 V154.7 Q1116.3,153.0 1118.0,153.0 Z" stroke="none" stroke-width="0" fill="url(#hL)" />
<path d="M1316.4,153.0 H1351.0 Q1352.7,153.0 1352.7,154.7 V635.8 Q1352.7,637.5 1351.0,637.5 H1316.4 L1312.4,625.7 H1343.4 V165.0 H1312.4 Z" stroke="none" stroke-width="0" fill="url(#hR)" />
<path d="M1111,226 H1140.8 V231.7 H1114.4 V240.9 H1140.8 V246.7 H1111 Z" stroke="none" stroke-width="0" fill="url(#hL)" />
<path d="M1111,532 H1116.3 V533.8 H1132.5 V538.1 H1119.8 V549.4 H1111 Z M1111,564.4 H1119.8 V575.9 H1132.5 V579.8 H1116.3 V581.7 H1111 Z" stroke="none" stroke-width="0" fill="url(#hL)" />
<rect x="1114.40" y="231.70" width="26.40" height="9.20" rx="0" stroke="none" stroke-width="0" fill="#fff"/>
<rect x="1110.00" y="549.60" width="10.00" height="14.60" rx="0" stroke="none" stroke-width="0" fill="#fff"/>
<rect x="1119.80" y="538.30" width="13.00" height="37.40" rx="0" stroke="none" stroke-width="0" fill="#fff"/>
<path d="M1304.4,153.0 H1118.0 Q1116.3,153.0 1116.3,154.7 V635.8 Q1116.3,637.5 1118.0,637.5 H1351.0 Q1352.7,637.5 1352.7,635.8 V154.7 Q1352.7,153.0 1351.0,153.0 H1304.4" stroke="#111" stroke-width="1.5" fill="none" />
<path d="M1304.4,161.0 H1124.7 V226 M1124.7,246.7 V533.8 M1124.7,579.8 V629.5 H1304.4" stroke="#111" stroke-width="1.5" fill="none" />
<path d="M1304.4,165.0 H1343.4 V625.7 H1304.4" stroke="#111" stroke-width="1.5" fill="none" />
<line x1="1304.40" y1="157.00" x2="1304.40" y2="633.50" stroke="#111" stroke-width="1.5"/>
<path d="M1301.5,153.0 V155.2 Q1301.5,156.6 1303.2,156.6 H1306.4 Q1307.7,156.6 1307.7,158.0 V161.0" stroke="#111" stroke-width="1.2" fill="#fff" />
<path d="M1307.7,155.3 H1313.4 Q1316.8000000000002,155.3 1316.8000000000002,158.65 Q1316.8000000000002,162.0 1313.4,162.0 H1307.7 Z" stroke="#111" stroke-width="1.2" fill="#fff" />
<path d="M1301.5,637.5 V635.3 Q1301.5,633.9 1303.2,633.9 H1306.4 Q1307.7,633.9 1307.7,632.5 V629.5" stroke="#111" stroke-width="1.2" fill="#fff" />
<path d="M1307.7,635.2 H1313.4 Q1316.8000000000002,635.2 1316.8000000000002,631.85 Q1316.8000000000002,628.5 1313.4,628.5 H1307.7 Z" stroke="#111" stroke-width="1.2" fill="#fff" />
<path d="M1116.3,161 H1112.3 Q1111,161 1111,162.3 V183.1 Q1111,184.4 1112.3,184.4 H1116.3" stroke="#111" stroke-width="1.2" fill="#fff" />
<path d="M1116.3,208.8 H1112.3 Q1111,208.8 1111,210.10000000000002 V224.7 Q1111,226 1112.3,226 H1116.3" stroke="#111" stroke-width="1.2" fill="#fff" />
<path d="M1116.3,246.7 H1112.3 Q1111,246.7 1111,248.0 V258.09999999999997 Q1111,259.4 1112.3,259.4 H1116.3" stroke="#111" stroke-width="1.2" fill="#fff" />
<path d="M1116.3,384.8 H1112.3 Q1111,384.8 1111,386.1 V405.0 Q1111,406.3 1112.3,406.3 H1116.3" stroke="#111" stroke-width="1.2" fill="#fff" />
<path d="M1116.3,605 H1112.3 Q1111,605 1111,606.3 V628.2 Q1111,629.5 1112.3,629.5 H1116.3" stroke="#111" stroke-width="1.2" fill="#fff" />
<line x1="1111.00" y1="226.00" x2="1111.00" y2="246.70" stroke="#111" stroke-width="1.2"/>
<line x1="1111.00" y1="532.00" x2="1111.00" y2="549.40" stroke="#111" stroke-width="1.2"/>
<line x1="1111.00" y1="564.40" x2="1111.00" y2="581.70" stroke="#111" stroke-width="1.2"/>
<path d="M1111,226 H1139.5 Q1140.8,226 1140.8,227.3 V245.4 Q1140.8,246.7 1139.5,246.7 H1111" stroke="#111" stroke-width="1.2" fill="none" />
<path d="M1114.4,231.7 H1137.8 V240.9 H1114.4 Z" stroke="#111" stroke-width="1.1" fill="none" />
<line x1="1124.70" y1="231.70" x2="1124.70" y2="240.90" stroke="#3a3a3a" stroke-width="1.1"/>
<path d="M1124.7,211 H1130.9 Q1132.2,211 1132.2,212.3 V226" stroke="#111" stroke-width="1.2" fill="none" />
<path d="M1132.2,246.7 V254 Q1132.2,255.3 1130.9,255.3 H1124.7" stroke="#111" stroke-width="1.2" fill="none" />
<path d="M1124.7,176 L1269.5,180.6 Q1271,180.7 1271,182.2 V221.3 Q1271,222.8 1269.5,222.8 L1134,224.3" stroke="#111" stroke-width="1.2" fill="none" />
<line x1="1271.00" y1="192.30" x2="1304.40" y2="192.30" stroke="#111" stroke-width="1.2"/>
<line x1="1304.40" y1="196.20" x2="1343.40" y2="196.20" stroke="#111" stroke-width="1.2"/>
<path d="M1124.7,368.5 H1140 Q1141.4,368.5 1141.4,370 V420.8 Q1141.4,422.3 1140,422.3 H1124.7" stroke="#111" stroke-width="1.2" fill="none" />
<line x1="1124.70" y1="381.60" x2="1141.40" y2="383.40" stroke="#111" stroke-width="1.1"/>
<line x1="1124.70" y1="408.80" x2="1141.40" y2="407.00" stroke="#111" stroke-width="1.1"/>
<path d="M1111,532 H1116.3 M1111,581.7 H1116.3" stroke="#111" stroke-width="1.2" fill="none" />
<path d="M1124.7,533.8 H1131.2 Q1132.5,533.8 1132.5,535.1 V578.5 Q1132.5,579.8 1131.2,579.8 H1124.7" stroke="#111" stroke-width="1.2" fill="none" />
<path d="M1132.5,538.1 H1119.8 V575.9 H1132.5" stroke="#111" stroke-width="1.2" fill="none" />
<path d="M1111,549.4 H1119.8 M1111,564.4 H1119.8" stroke="#111" stroke-width="1.1" fill="none" />
<path d="M1113,551 L1118.5,556 V558 L1113,563" stroke="#111" stroke-width="1.1" fill="none" />
<path d="M1132.5,543.75 H1140 Q1141.4,543.75 1141.4,545 V564 Q1141.4,565.3 1140,565.3 H1132.5" stroke="#111" stroke-width="1.2" fill="#fff" />
<line x1="1132.50" y1="550.70" x2="1141.40" y2="550.70" stroke="#111" stroke-width="1.1"/>
<line x1="1132.50" y1="558.20" x2="1141.40" y2="558.20" stroke="#111" stroke-width="1.1"/>
<path d="M1132.5,567.2 L1269,568 Q1270.4,568 1270.4,569.5 V608.3 Q1270.4,609.8 1269,609.8 L1124.7,614" stroke="#111" stroke-width="1.2" fill="none" />
<line x1="1270.40" y1="598.50" x2="1304.40" y2="598.50" stroke="#111" stroke-width="1.2"/>
<line x1="1304.40" y1="594.80" x2="1343.40" y2="594.80" stroke="#111" stroke-width="1.2"/>
<line x1="1114.70" y1="584.50" x2="1114.70" y2="629.00" stroke="#111" stroke-width="1.1"/>
<line x1="1114.40" y1="242.50" x2="1114.40" y2="286.70" stroke="#111" stroke-width="1.1"/>
<line x1="1113.20" y1="259.00" x2="1113.20" y2="286.70" stroke="#444" stroke-width="1.1"/>
<line x1="1140.80" y1="225.60" x2="1140.80" y2="722.00" stroke="#3a3a3a" stroke-width="1.1"/>
<line x1="1103.00" y1="236.30" x2="1147.00" y2="236.30" stroke="#3a3a3a" stroke-width="1.1"/>
<line x1="1098.00" y1="557.00" x2="1134.00" y2="557.00" stroke="#3a3a3a" stroke-width="1.1"/>
<line x1="1103.50" y1="395.40" x2="1561.00" y2="395.40" stroke="#3a3a3a" stroke-width="1.1" stroke-dasharray="22.4 4.3 6.8 4.3"/>
<path d="M1352.7,153.75 H1549.5 Q1553.5,153.75 1553.5,157.75 V633 Q1553.5,637 1549.5,637 H1352.7" stroke="#3a3a3a" stroke-width="1.1" fill="none" stroke-dasharray="31 3 3 3 3 3" />
<path d="M1352.7,165.4 H1397 Q1400,165.4 1400,168.4 V622.5 Q1400,625.5 1397,625.5 H1352.7" stroke="#3a3a3a" stroke-width="1.1" fill="none" stroke-dasharray="31 3 3 3 3 3" />
<line x1="1409.70" y1="153.75" x2="1409.70" y2="637.00" stroke="#3a3a3a" stroke-width="1.1" stroke-dasharray="31 3 3 3 3 3"/>
<path d="M1409.7,165.4 H1541.4 Q1544.4,165.4 1544.4,168.4 V622.5 Q1544.4,625.5 1541.4,625.5 H1409.7" stroke="#3a3a3a" stroke-width="1.1" fill="none" stroke-dasharray="31 3 3 3 3 3" />
<line x1="1553.50" y1="55.00" x2="1553.50" y2="153.75" stroke="#3a3a3a" stroke-width="1.1"/>
<line x1="1111.30" y1="58.70" x2="1553.50" y2="58.70" stroke="#3a3a3a" stroke-width="1.1"/>
<polygon points="1111.30,58.70 1120.90,57.30 1120.90,60.10" fill="#111"/>
<polygon points="1553.50,58.70 1543.90,60.10 1543.90,57.30" fill="#111"/>
<text transform="translate(1330.00 55.50) scale(0.76 1)" font-size="19.90" text-anchor="middle" fill="#1c1c1c" stroke="#1c1c1c" stroke-width="0.2">164<tspan dx="2.24" font-family="DejaVu Sans,sans-serif">.</tspan><tspan dx="2.24">2</tspan></text>
<line x1="1409.50" y1="82.00" x2="1409.50" y2="153.75" stroke="#3a3a3a" stroke-width="1.1"/>
<line x1="1111.30" y1="85.70" x2="1409.50" y2="85.70" stroke="#3a3a3a" stroke-width="1.1"/>
<polygon points="1111.30,85.70 1120.90,84.30 1120.90,87.10" fill="#111"/>
<polygon points="1409.50,85.70 1399.90,87.10 1399.90,84.30" fill="#111"/>
<text transform="translate(1258.00 82.50) scale(0.76 1)" font-size="19.90" text-anchor="middle" fill="#1c1c1c" stroke="#1c1c1c" stroke-width="0.2">110<tspan dx="2.24" font-family="DejaVu Sans,sans-serif">.</tspan><tspan dx="2.24">7</tspan></text>
<line x1="1353.00" y1="109.00" x2="1353.00" y2="153.00" stroke="#3a3a3a" stroke-width="1.1"/>
<line x1="1111.30" y1="112.70" x2="1353.00" y2="112.70" stroke="#3a3a3a" stroke-width="1.1"/>
<polygon points="1111.30,112.70 1120.90,111.30 1120.90,114.10" fill="#111"/>
<polygon points="1353.00,112.70 1343.40,114.10 1343.40,111.30" fill="#111"/>
<text transform="translate(1230.00 109.50) scale(0.76 1)" font-size="19.90" text-anchor="middle" fill="#1c1c1c" stroke="#1c1c1c" stroke-width="0.2">89<tspan dx="2.24" font-family="DejaVu Sans,sans-serif">.</tspan><tspan dx="2.24">7</tspan></text>
<line x1="1304.40" y1="136.00" x2="1304.40" y2="153.00" stroke="#3a3a3a" stroke-width="1.1"/>
<line x1="1111.30" y1="139.70" x2="1304.40" y2="139.70" stroke="#3a3a3a" stroke-width="1.1"/>
<polygon points="1111.30,139.70 1120.90,138.30 1120.90,141.10" fill="#111"/>
<polygon points="1304.40,139.70 1294.80,141.10 1294.80,138.30" fill="#111"/>
<text transform="translate(1206.00 136.50) scale(0.76 1)" font-size="19.90" text-anchor="middle" fill="#1c1c1c" stroke="#1c1c1c" stroke-width="0.2">71<tspan dx="2.24" font-family="DejaVu Sans,sans-serif">.</tspan><tspan dx="2.24">7</tspan></text>
<line x1="1111.30" y1="55.00" x2="1111.30" y2="162.00" stroke="#3a3a3a" stroke-width="1.1"/>
<line x1="1113.50" y1="630.00" x2="1113.50" y2="669.00" stroke="#3a3a3a" stroke-width="1.1"/>
<line x1="1343.50" y1="637.50" x2="1343.50" y2="669.00" stroke="#3a3a3a" stroke-width="1.1"/>
<line x1="1400.50" y1="625.50" x2="1400.50" y2="695.00" stroke="#3a3a3a" stroke-width="1.1"/>
<line x1="1544.70" y1="625.50" x2="1544.70" y2="722.00" stroke="#3a3a3a" stroke-width="1.1"/>
<line x1="1082.00" y1="665.00" x2="1343.50" y2="665.00" stroke="#3a3a3a" stroke-width="1.1"/>
<polygon points="1113.50,665.00 1103.90,666.40 1103.90,663.60" fill="#111"/>
<polygon points="1140.80,665.00 1150.40,663.60 1150.40,666.40" fill="#111"/>
<polygon points="1343.50,665.00 1333.90,666.40 1333.90,663.60" fill="#111"/>
<text transform="translate(1091.00 661.50) scale(0.76 1)" font-size="19.90" text-anchor="middle" fill="#1c1c1c" stroke="#1c1c1c" stroke-width="0.2">10</text>
<text transform="translate(1240.50 661.50) scale(0.76 1)" font-size="19.90" text-anchor="middle" fill="#1c1c1c" stroke="#1c1c1c" stroke-width="0.2">75<tspan dx="2.24" font-family="DejaVu Sans,sans-serif">.</tspan><tspan dx="2.24">2</tspan></text>
<line x1="1140.80" y1="691.20" x2="1400.50" y2="691.20" stroke="#3a3a3a" stroke-width="1.1"/>
<polygon points="1140.80,691.20 1150.40,689.80 1150.40,692.60" fill="#111"/>
<polygon points="1400.50,691.20 1390.90,692.60 1390.90,689.80" fill="#111"/>
<text transform="translate(1268.00 687.80) scale(0.76 1)" font-size="19.90" text-anchor="middle" fill="#1c1c1c" stroke="#1c1c1c" stroke-width="0.2">96<tspan dx="2.24" font-family="DejaVu Sans,sans-serif">.</tspan><tspan dx="2.24">2</tspan></text>
<line x1="1140.80" y1="718.50" x2="1544.70" y2="718.50" stroke="#3a3a3a" stroke-width="1.1"/>
<polygon points="1140.80,718.50 1150.40,717.10 1150.40,719.90" fill="#111"/>
<polygon points="1544.70,718.50 1535.10,719.90 1535.10,717.10" fill="#111"/>
<text transform="translate(1341.00 715.00) scale(0.76 1)" font-size="19.90" text-anchor="middle" fill="#1c1c1c" stroke="#1c1c1c" stroke-width="0.2">149<tspan dx="2.24" font-family="DejaVu Sans,sans-serif">.</tspan><tspan dx="2.24">7</tspan></text>
<text transform="translate(1247.60 760.50) scale(0.9 1)" font-size="19.90" text-anchor="middle" fill="#1c1c1c" stroke="#1c1c1c" stroke-width="0.2">A-A</text>
<text x="1052.00" y="202.40" font-size="10.5" text-anchor="start" fill="#111" textLength="24.50" lengthAdjust="spacingAndGlyphs" stroke="#111" stroke-width="0.25">(6x)</text>
<path d="M1078.5,197.5 H1091 L1114.4,232.2" stroke="#3a3a3a" stroke-width="1.1" fill="none" />
<line x1="1141.00" y1="231.70" x2="1169.70" y2="231.70" stroke="#3a3a3a" stroke-width="1.1"/>
<line x1="1141.00" y1="240.90" x2="1169.70" y2="240.90" stroke="#3a3a3a" stroke-width="1.1"/>
<line x1="1165.00" y1="216.30" x2="1165.00" y2="269.80" stroke="#3a3a3a" stroke-width="1.1"/>
<polygon points="1165,231.7 1163.8,224.5 1166.2,224.5" fill="#111"/><polygon points="1165,240.9 1163.8,248.1 1166.2,248.1" fill="#111"/>
<text x="1163.30" y="260.40" font-size="9.5" text-anchor="middle" fill="#111" transform="rotate(-90 1163.30 260.40)" textLength="20.50" lengthAdjust="spacingAndGlyphs" stroke="#111" stroke-width="0.3">Ø3.4</text>
<line x1="1114.40" y1="284.20" x2="1140.80" y2="284.20" stroke="#3a3a3a" stroke-width="1.1"/>
<polygon points="1114.4,284.2 1121,283.1 1121,285.3" fill="#111"/><polygon points="1140.8,284.2 1134.2,283.1 1134.2,285.3" fill="#111"/>
<text x="1133.00" y="282.30" font-size="9.5" text-anchor="middle" fill="#111" textLength="9.50" lengthAdjust="spacingAndGlyphs" stroke="#111" stroke-width="0.3">10</text>
<line x1="1108.00" y1="469.00" x2="1163.50" y2="469.00" stroke="#3a3a3a" stroke-width="1.1"/>
<polygon points="1124.70,469.00 1115.10,470.40 1115.10,467.60" fill="#111"/>
<polygon points="1140.80,469.00 1150.40,467.60 1150.40,470.40" fill="#111"/>
<text transform="translate(1156.00 465.30) scale(0.76 1)" font-size="19.90" text-anchor="middle" fill="#1c1c1c" stroke="#1c1c1c" stroke-width="0.2">6</text>
<line x1="1111.30" y1="494.00" x2="1111.30" y2="532.00" stroke="#3a3a3a" stroke-width="1.1"/>
<line x1="1092.00" y1="498.20" x2="1135.40" y2="498.20" stroke="#3a3a3a" stroke-width="1.1"/>
<polygon points="1111.30,498.20 1101.70,499.60 1101.70,496.80" fill="#111"/>
<polygon points="1125.00,498.20 1134.60,496.80 1134.60,499.60" fill="#111"/>
<text transform="translate(1095.10 495.40) scale(0.76 1)" font-size="19.90" text-anchor="middle" fill="#1c1c1c" stroke="#1c1c1c" stroke-width="0.2">3</text>
<line x1="1071.60" y1="549.40" x2="1111.00" y2="549.40" stroke="#3a3a3a" stroke-width="1.1"/>
<line x1="1071.60" y1="564.40" x2="1111.00" y2="564.40" stroke="#3a3a3a" stroke-width="1.1"/>
<line x1="1075.30" y1="491.60" x2="1075.30" y2="580.30" stroke="#3a3a3a" stroke-width="1.1"/>
<polygon points="1075.30,549.40 1073.90,539.80 1076.70,539.80" fill="#111"/>
<polygon points="1075.30,564.40 1076.70,574.00 1073.90,574.00" fill="#111"/>
<text transform="translate(1071.80 514.00) rotate(-90) scale(0.76 1)" font-size="19.90" text-anchor="middle" fill="#1c1c1c" stroke="#1c1c1c" stroke-width="0.2"><tspan font-size="22.49">Ø</tspan>5<tspan dx="2.24" font-family="DejaVu Sans,sans-serif">.</tspan><tspan dx="2.24">5</tspan></text>
<line x1="1132.50" y1="538.10" x2="1187.00" y2="538.10" stroke="#3a3a3a" stroke-width="1.1"/>
<line x1="1132.50" y1="575.90" x2="1187.00" y2="575.90" stroke="#3a3a3a" stroke-width="1.1"/>
<line x1="1182.60" y1="499.00" x2="1182.60" y2="591.60" stroke="#3a3a3a" stroke-width="1.1"/>
<polygon points="1182.60,538.10 1181.20,528.50 1184.00,528.50" fill="#111"/>
<polygon points="1182.60,575.90 1184.00,585.50 1181.20,585.50" fill="#111"/>
<text transform="translate(1179.20 518.00) rotate(-90) scale(0.76 1)" font-size="19.90" text-anchor="middle" fill="#1c1c1c" stroke="#1c1c1c" stroke-width="0.2"><tspan font-size="22.49">Ø</tspan>14</text>
<line x1="1132.50" y1="575.90" x2="1132.50" y2="608.80" stroke="#3a3a3a" stroke-width="1.1"/>
<line x1="1082.00" y1="605.70" x2="1148.50" y2="605.70" stroke="#3a3a3a" stroke-width="1.1"/>
<polygon points="1116.30,605.70 1106.70,607.10 1106.70,604.30" fill="#111"/>
<polygon points="1132.50,605.70 1142.10,604.30 1142.10,607.10" fill="#111"/>
<text transform="translate(1085.60 601.50) scale(0.76 1)" font-size="19.90" text-anchor="middle" fill="#1c1c1c" stroke="#1c1c1c" stroke-width="0.2">5</text>
<path d="M455.7,844.2 V840 Q455.7,838.5 457.2,838.5 H479.1 Q480.6,838.5 480.6,840 V844.2" stroke="#111" stroke-width="1.1" fill="none" />
<path d="M505.4,844.2 V840 Q505.4,838.5 506.9,838.5 H556.0 Q557.5,838.5 557.5,840 V844.2" stroke="#111" stroke-width="1.1" fill="none" />
<path d="M634.4,844.2 V840 Q634.4,838.5 635.9,838.5 H655.0 Q656.5,838.5 656.5,840 V844.2" stroke="#111" stroke-width="1.1" fill="none" />
<path d="M682.2,844.2 V840 Q682.2,838.5 683.7,838.5 H703.2 Q704.7,838.5 704.7,840 V844.2" stroke="#111" stroke-width="1.1" fill="none" />
<path d="M729.7,844.2 V840 Q729.7,838.5 731.2,838.5 H750.3 Q751.8,838.5 751.8,840 V844.2" stroke="#111" stroke-width="1.1" fill="none" />
<path d="M828.7,844.2 V840 Q828.7,838.5 830.2,838.5 H879.3 Q880.8,838.5 880.8,840 V844.2" stroke="#111" stroke-width="1.1" fill="none" />
<path d="M905.6,844.2 V840 Q905.6,838.5 907.1,838.5 H929.0 Q930.5,838.5 930.5,840 V844.2" stroke="#111" stroke-width="1.1" fill="none" />
<line x1="530.00" y1="843.40" x2="557.50" y2="843.40" stroke="#111" stroke-width="1.4"/>
<line x1="656.50" y1="843.40" x2="668.00" y2="843.40" stroke="#111" stroke-width="1.4"/>
<line x1="704.70" y1="843.40" x2="716.00" y2="843.40" stroke="#111" stroke-width="1.4"/>
<line x1="828.70" y1="843.40" x2="852.00" y2="843.40" stroke="#111" stroke-width="1.4"/>
<path d="M448.4,1030.3 V846.7 Q448.4,844.2 450.9,844.2 H936.0 Q938.5,844.2 938.5,846.7 V1030.3" stroke="#111" stroke-width="1.4" fill="none" />
<line x1="448.40" y1="1030.30" x2="938.50" y2="1030.30" stroke="#111" stroke-width="1.3"/>
<path d="M451.4,1030.3 V1034 Q451.4,1035.6 453.0,1035.6 H933.9 Q935.5,1035.6 935.5,1034 V1030.3" stroke="#111" stroke-width="1.3" fill="none" />
<line x1="452.00" y1="1031.80" x2="492.00" y2="1031.80" stroke="#555" stroke-width="2.2"/>
<line x1="894.00" y1="1031.80" x2="934.50" y2="1031.80" stroke="#555" stroke-width="2.2"/>
<rect x="479.10" y="857.20" width="428.50" height="159.30" rx="3" stroke="#111" stroke-width="1.3" fill="none"/>
<rect x="483.30" y="860.50" width="420.10" height="153.00" rx="1.2" stroke="#111" stroke-width="1.2" fill="none"/>
<line x1="693.10" y1="829.80" x2="693.10" y2="1042.00" stroke="#3a3a3a" stroke-width="1.1" stroke-dasharray="47 5.5 7.5 5.5 98 5.5 7.5 5.5 40"/>
<line x1="479.10" y1="804.40" x2="479.10" y2="857.00" stroke="#3a3a3a" stroke-width="1.1"/>
<line x1="907.60" y1="804.40" x2="907.60" y2="857.00" stroke="#3a3a3a" stroke-width="1.1"/>
<line x1="479.10" y1="807.30" x2="907.60" y2="807.30" stroke="#3a3a3a" stroke-width="1.1"/>
<polygon points="479.10,807.30 488.70,805.90 488.70,808.70" fill="#111"/>
<polygon points="907.60,807.30 898.00,808.70 898.00,805.90" fill="#111"/>
<text transform="translate(686.50 804.00) scale(0.76 1)" font-size="19.90" text-anchor="middle" fill="#1c1c1c" stroke="#1c1c1c" stroke-width="0.2">159</text>
<line x1="907.60" y1="857.20" x2="987.00" y2="857.20" stroke="#3a3a3a" stroke-width="1.1"/>
<line x1="907.60" y1="1016.50" x2="987.00" y2="1016.50" stroke="#3a3a3a" stroke-width="1.1"/>
<line x1="935.50" y1="1035.60" x2="987.00" y2="1035.60" stroke="#3a3a3a" stroke-width="1.1"/>
<line x1="983.10" y1="857.20" x2="983.10" y2="1016.50" stroke="#3a3a3a" stroke-width="1.1"/>
<polygon points="983.10,857.20 984.50,866.80 981.70,866.80" fill="#111"/>
<polygon points="983.10,1016.50 981.70,1006.90 984.50,1006.90" fill="#111"/>
<text transform="translate(979.80 938.50) rotate(-90) scale(0.76 1)" font-size="19.90" text-anchor="middle" fill="#1c1c1c" stroke="#1c1c1c" stroke-width="0.2">59</text>
<line x1="983.10" y1="1016.50" x2="983.10" y2="1060.00" stroke="#3a3a3a" stroke-width="1.1"/>
<polygon points="983.10,1035.60 984.50,1045.20 981.70,1045.20" fill="#111"/>
<text transform="translate(979.80 1057.00) rotate(-90) scale(0.76 1)" font-size="19.90" text-anchor="middle" fill="#1c1c1c" stroke="#1c1c1c" stroke-width="0.2">7</text>
<line x1="462.00" y1="947.60" x2="511.00" y2="947.60" stroke="#3a3a3a" stroke-width="1.1"/>
<polygon points="479.10,947.60 469.50,949.00 469.50,946.20" fill="#111"/>
<polygon points="483.30,947.60 492.90,946.20 492.90,949.00" fill="#111"/>
<text transform="translate(497.50 944.00) scale(0.76 1)" font-size="19.90" text-anchor="middle" fill="#1c1c1c" stroke="#1c1c1c" stroke-width="0.2">1<tspan dx="2.24" font-family="DejaVu Sans,sans-serif">.</tspan><tspan dx="2.24">5</tspan></text>
<line x1="824.20" y1="991.00" x2="824.20" y2="1031.00" stroke="#3a3a3a" stroke-width="1.1"/>
<polygon points="824.20,1013.50 822.80,1003.90 825.60,1003.90" fill="#111"/>
<polygon points="824.20,1016.50 825.60,1026.10 822.80,1026.10" fill="#111"/>
<text transform="translate(821.00 996.00) rotate(-90) scale(0.76 1)" font-size="19.90" text-anchor="middle" fill="#1c1c1c" stroke="#1c1c1c" stroke-width="0.2">1</text>
<line x1="448.40" y1="1030.00" x2="448.40" y2="1088.00" stroke="#3a3a3a" stroke-width="1.1"/>
<line x1="479.10" y1="1016.50" x2="479.10" y2="1088.00" stroke="#3a3a3a" stroke-width="1.1"/>
<line x1="432.00" y1="1084.00" x2="540.60" y2="1084.00" stroke="#3a3a3a" stroke-width="1.1"/>
<polygon points="448.40,1084.00 438.80,1085.40 438.80,1082.60" fill="#111"/>
<polygon points="479.10,1084.00 488.70,1082.60 488.70,1085.40" fill="#111"/>
<text transform="translate(523.00 1080.60) scale(0.76 1)" font-size="19.90" text-anchor="middle" fill="#1c1c1c" stroke="#1c1c1c" stroke-width="0.2">11<tspan dx="2.24" font-family="DejaVu Sans,sans-serif">.</tspan><tspan dx="2.24">5</tspan></text>
<path d="M1410.2,976.5 V794.2 H1586.5" stroke="#111" stroke-width="1.4" fill="none" />
<line x1="1410.20" y1="842.50" x2="1586.50" y2="842.50" stroke="#111" stroke-width="1.4"/>
<line x1="1410.20" y1="865.30" x2="1586.50" y2="865.30" stroke="#111" stroke-width="1.4"/>
<line x1="1470.90" y1="842.50" x2="1470.90" y2="976.50" stroke="#111" stroke-width="1.4"/>
<line x1="1515.40" y1="842.50" x2="1515.40" y2="976.50" stroke="#111" stroke-width="1.4"/>
<text x="1498.00" y="810.60" font-size="12.2" text-anchor="middle" fill="#111" textLength="146.00" lengthAdjust="spacingAndGlyphs" font-family='"Liberation Sans","DejaVu Sans",sans-serif' font-weight="bold" >Gehaeuse ohne Vorpraegungen</text>
<text x="1414.00" y="825.00" font-size="9.2" text-anchor="start" fill="#2a2a2a" textLength="161.00" lengthAdjust="spacingAndGlyphs" font-family='"DejaVu Sans Condensed","Liberation Sans",sans-serif' stroke="#1a1a1a" stroke-width="0.05">max.moegliche Durchgangsoeffnungen</text>
<text x="1414.00" y="835.00" font-size="9.2" text-anchor="start" fill="#2a2a2a" textLength="63.00" lengthAdjust="spacingAndGlyphs" font-family='"DejaVu Sans Condensed","Liberation Sans",sans-serif' stroke="#1a1a1a" stroke-width="0.05">je Kastenseite</text>
<text x="1441.20" y="859.80" font-size="12.5" text-anchor="middle" fill="#111" textLength="8.50" lengthAdjust="spacingAndGlyphs" font-family='"Liberation Sans","DejaVu Sans",sans-serif' font-weight="bold" >M</text>
<text x="1493.70" y="859.80" font-size="12.5" text-anchor="middle" fill="#111" textLength="18.50" lengthAdjust="spacingAndGlyphs" font-family='"Liberation Sans","DejaVu Sans",sans-serif' font-weight="bold" >A/C</text>
<text x="1545.00" y="859.80" font-size="12.5" text-anchor="middle" fill="#111" textLength="18.50" lengthAdjust="spacingAndGlyphs" font-family='"Liberation Sans","DejaVu Sans",sans-serif' font-weight="bold" >B/D</text>
<text x="1436.60" y="880.20" font-size="13.8" text-anchor="start" fill="#222" textLength="13.20" lengthAdjust="spacingAndGlyphs" font-family='"DejaVu Sans Light","DejaVu Sans","Liberation Sans",sans-serif' stroke="#1a1a1a" stroke-width="0.22">12</text>
<text x="1485.80" y="880.20" font-size="13.8" text-anchor="start" fill="#222" textLength="13.20" lengthAdjust="spacingAndGlyphs" font-family='"DejaVu Sans Light","DejaVu Sans","Liberation Sans",sans-serif' stroke="#1a1a1a" stroke-width="0.22">12</text>
<text x="1539.60" y="880.20" font-size="13.8" text-anchor="start" fill="#222" textLength="13.20" lengthAdjust="spacingAndGlyphs" font-family='"DejaVu Sans Light","DejaVu Sans","Liberation Sans",sans-serif' stroke="#1a1a1a" stroke-width="0.22">12</text>
<text x="1436.60" y="894.30" font-size="13.8" text-anchor="start" fill="#222" textLength="13.20" lengthAdjust="spacingAndGlyphs" font-family='"DejaVu Sans Light","DejaVu Sans","Liberation Sans",sans-serif' stroke="#1a1a1a" stroke-width="0.22">16</text>
<text x="1485.80" y="894.30" font-size="13.8" text-anchor="start" fill="#222" textLength="6.60" lengthAdjust="spacingAndGlyphs" font-family='"DejaVu Sans Light","DejaVu Sans","Liberation Sans",sans-serif' stroke="#1a1a1a" stroke-width="0.22">6</text>
<text x="1539.60" y="894.30" font-size="13.8" text-anchor="start" fill="#222" textLength="6.60" lengthAdjust="spacingAndGlyphs" font-family='"DejaVu Sans Light","DejaVu Sans","Liberation Sans",sans-serif' stroke="#1a1a1a" stroke-width="0.22">6</text>
<text x="1436.60" y="908.40" font-size="13.8" text-anchor="start" fill="#222" textLength="13.20" lengthAdjust="spacingAndGlyphs" font-family='"DejaVu Sans Light","DejaVu Sans","Liberation Sans",sans-serif' stroke="#1a1a1a" stroke-width="0.22">20</text>
<text x="1485.80" y="908.40" font-size="13.8" text-anchor="start" fill="#222" textLength="6.60" lengthAdjust="spacingAndGlyphs" font-family='"DejaVu Sans Light","DejaVu Sans","Liberation Sans",sans-serif' stroke="#1a1a1a" stroke-width="0.22">4</text>
<text x="1539.60" y="908.40" font-size="13.8" text-anchor="start" fill="#222" textLength="6.60" lengthAdjust="spacingAndGlyphs" font-family='"DejaVu Sans Light","DejaVu Sans","Liberation Sans",sans-serif' stroke="#1a1a1a" stroke-width="0.22">4</text>
<text x="1436.60" y="922.50" font-size="13.8" text-anchor="start" fill="#222" textLength="13.20" lengthAdjust="spacingAndGlyphs" font-family='"DejaVu Sans Light","DejaVu Sans","Liberation Sans",sans-serif' stroke="#1a1a1a" stroke-width="0.22">25</text>
<text x="1485.80" y="922.50" font-size="13.8" text-anchor="start" fill="#222" textLength="6.60" lengthAdjust="spacingAndGlyphs" font-family='"DejaVu Sans Light","DejaVu Sans","Liberation Sans",sans-serif' stroke="#1a1a1a" stroke-width="0.22">3</text>
<text x="1539.60" y="922.50" font-size="13.8" text-anchor="start" fill="#222" textLength="6.60" lengthAdjust="spacingAndGlyphs" font-family='"DejaVu Sans Light","DejaVu Sans","Liberation Sans",sans-serif' stroke="#1a1a1a" stroke-width="0.22">3</text>
<text x="1436.60" y="936.60" font-size="13.8" text-anchor="start" fill="#222" textLength="13.20" lengthAdjust="spacingAndGlyphs" font-family='"DejaVu Sans Light","DejaVu Sans","Liberation Sans",sans-serif' stroke="#1a1a1a" stroke-width="0.22">32</text>
<text x="1485.80" y="936.60" font-size="13.8" text-anchor="start" fill="#222" textLength="6.60" lengthAdjust="spacingAndGlyphs" font-family='"DejaVu Sans Light","DejaVu Sans","Liberation Sans",sans-serif' stroke="#1a1a1a" stroke-width="0.22">1</text>
<text x="1539.60" y="936.60" font-size="13.8" text-anchor="start" fill="#222" textLength="6.60" lengthAdjust="spacingAndGlyphs" font-family='"DejaVu Sans Light","DejaVu Sans","Liberation Sans",sans-serif' stroke="#1a1a1a" stroke-width="0.22">1</text>
<text x="1436.60" y="950.70" font-size="13.8" text-anchor="start" fill="#222" textLength="13.20" lengthAdjust="spacingAndGlyphs" font-family='"DejaVu Sans Light","DejaVu Sans","Liberation Sans",sans-serif' stroke="#1a1a1a" stroke-width="0.22">40</text>
<line x1="1486.80" y1="946.40" x2="1491.00" y2="946.40" stroke="#3a3a3a" stroke-width="1.1"/>
<line x1="1540.60" y1="946.40" x2="1544.80" y2="946.40" stroke="#3a3a3a" stroke-width="1.1"/>
<text x="1436.60" y="964.80" font-size="13.8" text-anchor="start" fill="#222" textLength="13.20" lengthAdjust="spacingAndGlyphs" font-family='"DejaVu Sans Light","DejaVu Sans","Liberation Sans",sans-serif' stroke="#1a1a1a" stroke-width="0.22">50</text>
<line x1="1486.80" y1="960.50" x2="1491.00" y2="960.50" stroke="#3a3a3a" stroke-width="1.1"/>
<line x1="1540.60" y1="960.50" x2="1544.80" y2="960.50" stroke="#3a3a3a" stroke-width="1.1"/>
<path d="M1088.4,1117.7 V976.7 H1586.5" stroke="#111" stroke-width="1.4" fill="none" />
<line x1="1236.30" y1="976.70" x2="1236.30" y2="1117.70" stroke="#111" stroke-width="1.2"/>
<line x1="1303.80" y1="976.70" x2="1303.80" y2="1064.00" stroke="#111" stroke-width="1.2"/>
<line x1="1352.50" y1="976.70" x2="1352.50" y2="1117.70" stroke="#111" stroke-width="1.2"/>
<line x1="1470.60" y1="976.70" x2="1470.60" y2="993.70" stroke="#111" stroke-width="1.2"/>
<line x1="1352.50" y1="993.70" x2="1586.50" y2="993.70" stroke="#111" stroke-width="1.2"/>
<line x1="1088.40" y1="1020.80" x2="1586.50" y2="1020.80" stroke="#111" stroke-width="1.4"/>
<line x1="1263.60" y1="1020.80" x2="1263.60" y2="1074.50" stroke="#111" stroke-width="1.1"/>
<line x1="1236.30" y1="1031.60" x2="1352.50" y2="1031.60" stroke="#111" stroke-width="1.1"/>
<line x1="1236.30" y1="1042.50" x2="1352.50" y2="1042.50" stroke="#111" stroke-width="1.1"/>
<line x1="1236.30" y1="1053.30" x2="1352.50" y2="1053.30" stroke="#111" stroke-width="1.1"/>
<line x1="1236.30" y1="1064.00" x2="1352.50" y2="1064.00" stroke="#111" stroke-width="1.1"/>
<line x1="1303.80" y1="1064.00" x2="1303.80" y2="1064.00" stroke="#111" stroke-width="1.1"/>
<line x1="1236.30" y1="1074.50" x2="1586.50" y2="1074.50" stroke="#111" stroke-width="1.2"/>
<line x1="1236.30" y1="1107.20" x2="1586.50" y2="1107.20" stroke="#111" stroke-width="1.2"/>
<line x1="1088.40" y1="1096.30" x2="1236.30" y2="1096.30" stroke="#111" stroke-width="1.1"/>
<line x1="1088.40" y1="1107.20" x2="1236.30" y2="1107.20" stroke="#111" stroke-width="1.1"/>
<line x1="1109.20" y1="1096.30" x2="1109.20" y2="1117.70" stroke="#111" stroke-width="1.1"/>
<line x1="1179.40" y1="1096.30" x2="1179.40" y2="1117.70" stroke="#111" stroke-width="1.1"/>
<line x1="1214.50" y1="1096.30" x2="1214.50" y2="1117.70" stroke="#111" stroke-width="1.1"/>
<line x1="1551.30" y1="1074.50" x2="1551.30" y2="1107.20" stroke="#111" stroke-width="1.1"/>
<line x1="1551.30" y1="1096.30" x2="1586.50" y2="1096.30" stroke="#111" stroke-width="1.1"/>
<text x="1090.60" y="983.50" font-size="6.6" text-anchor="start" fill="#1a1a1a" textLength="74.00" lengthAdjust="spacingAndGlyphs" font-family='"DejaVu Sans Condensed","Liberation Sans",sans-serif' stroke="#1a1a1a" stroke-width="0.3">(Verwendungsbereich)</text>
<text x="1238.50" y="983.50" font-size="6.6" text-anchor="start" fill="#1a1a1a" textLength="36.00" lengthAdjust="spacingAndGlyphs" font-family='"DejaVu Sans Condensed","Liberation Sans",sans-serif' stroke="#1a1a1a" stroke-width="0.3">(Zul.Abw.)</text>
<text x="1306.20" y="983.70" font-size="6.6" text-anchor="start" fill="#1a1a1a" textLength="45.00" lengthAdjust="spacingAndGlyphs" font-family='"DejaVu Sans Condensed","Liberation Sans",sans-serif' stroke="#1a1a1a" stroke-width="0.3">(Oberflaeche)</text>
<text x="1354.70" y="983.70" font-size="6.6" text-anchor="start" fill="#1a1a1a" textLength="27.00" lengthAdjust="spacingAndGlyphs" font-family='"DejaVu Sans Condensed","Liberation Sans",sans-serif' stroke="#1a1a1a" stroke-width="0.3">Maßstab</text>
<text x="1408.70" y="990.00" font-size="12.5" text-anchor="start" fill="#111" textLength="14.50" lengthAdjust="spacingAndGlyphs" font-family='"Liberation Sans","DejaVu Sans",sans-serif' font-weight="bold" >1:1</text>
<text x="1472.90" y="983.70" font-size="6.6" text-anchor="start" fill="#1a1a1a" textLength="54.00" lengthAdjust="spacingAndGlyphs" font-family='"DejaVu Sans Condensed","Liberation Sans",sans-serif' stroke="#1a1a1a" stroke-width="0.3">(Volumen in cm³)</text>
<text x="1354.70" y="1003.40" font-size="6.6" text-anchor="start" fill="#1a1a1a" textLength="73.00" lengthAdjust="spacingAndGlyphs" font-family='"DejaVu Sans Condensed","Liberation Sans",sans-serif' stroke="#1a1a1a" stroke-width="0.3">(Werkstoff,Halbzeug)</text>
<text x="1354.70" y="1029.10" font-size="6.6" text-anchor="start" fill="#1a1a1a" textLength="40.00" lengthAdjust="spacingAndGlyphs" font-family='"DejaVu Sans Condensed","Liberation Sans",sans-serif' stroke="#1a1a1a" stroke-width="0.3">(Benennung)</text>
<text x="1354.50" y="1045.60" font-size="13.2" text-anchor="start" fill="#111" textLength="56.00" lengthAdjust="spacingAndGlyphs" font-family='"Liberation Sans","DejaVu Sans",sans-serif' stroke="#1a1a1a" stroke-width="0.35">Massblatt</text>
<text x="1354.50" y="1067.20" font-size="13.2" text-anchor="start" fill="#111" textLength="84.00" lengthAdjust="spacingAndGlyphs" font-family='"Liberation Sans","DejaVu Sans",sans-serif' stroke="#1a1a1a" stroke-width="0.35">TK 1818 glatt</text>
<text x="1354.70" y="1083.10" font-size="6.6" text-anchor="start" fill="#1a1a1a" textLength="67.00" lengthAdjust="spacingAndGlyphs" font-family='"DejaVu Sans Condensed","Liberation Sans",sans-serif' stroke="#1a1a1a" stroke-width="0.3">(Zeichnungsnummer)</text>
<text x="1354.50" y="1099.60" font-size="13.2" text-anchor="start" fill="#111" textLength="98.00" lengthAdjust="spacingAndGlyphs" font-family='"Liberation Sans","DejaVu Sans",sans-serif' stroke="#1a1a1a" stroke-width="0.35">M-TK-1818 glatt</text>
<text x="1554.00" y="1082.80" font-size="6.6" text-anchor="start" fill="#1a1a1a" textLength="16.50" lengthAdjust="spacingAndGlyphs" font-family='"DejaVu Sans Condensed","Liberation Sans",sans-serif' stroke="#1a1a1a" stroke-width="0.3">Blatt</text>
<text x="1554.50" y="1094.00" font-size="6.6" text-anchor="start" fill="#1a1a1a" textLength="2.60" lengthAdjust="spacingAndGlyphs" font-family='"DejaVu Sans Condensed","Liberation Sans",sans-serif' stroke="#1a1a1a" stroke-width="0.3">1</text>
<text x="1557.00" y="1105.20" font-size="6.6" text-anchor="start" fill="#1a1a1a" textLength="7.50" lengthAdjust="spacingAndGlyphs" font-family='"DejaVu Sans Condensed","Liberation Sans",sans-serif' stroke="#1a1a1a" stroke-width="0.3">A2</text>
<text x="1572.50" y="1105.20" font-size="6.6" text-anchor="start" fill="#1a1a1a" textLength="10.00" lengthAdjust="spacingAndGlyphs" font-family='"DejaVu Sans Condensed","Liberation Sans",sans-serif' stroke="#1a1a1a" stroke-width="0.3">Bl.</text>
<text x="1354.70" y="1115.60" font-size="6.6" text-anchor="start" fill="#1a1a1a" textLength="47.00" lengthAdjust="spacingAndGlyphs" font-family='"DejaVu Sans Condensed","Liberation Sans",sans-serif' stroke="#1a1a1a" stroke-width="0.3">(Ersatz fuer:)</text>
<text x="1408.50" y="1115.60" font-size="6.6" text-anchor="start" fill="#1a1a1a" textLength="108.50" lengthAdjust="spacingAndGlyphs" font-family='"DejaVu Sans Condensed","Liberation Sans",sans-serif' stroke="#1a1a1a" stroke-width="0.3">Zeichnung v.10.07.2002 (ME10)</text>
<text x="1265.50" y="1029.30" font-size="7.2" text-anchor="start" fill="#1a1a1a" textLength="21.00" lengthAdjust="spacingAndGlyphs" font-family='"DejaVu Sans Condensed","Liberation Sans",sans-serif' stroke="#1a1a1a" stroke-width="0.3">Datum</text>
<text x="1306.00" y="1029.30" font-size="7.2" text-anchor="start" fill="#1a1a1a" textLength="17.00" lengthAdjust="spacingAndGlyphs" font-family='"DejaVu Sans Condensed","Liberation Sans",sans-serif' stroke="#1a1a1a" stroke-width="0.3">Name</text>
<text x="1238.60" y="1040.20" font-size="7.2" text-anchor="start" fill="#1a1a1a" textLength="22.50" lengthAdjust="spacingAndGlyphs" font-family='"DejaVu Sans Condensed","Liberation Sans",sans-serif' stroke="#1a1a1a" stroke-width="0.3">Bearb.</text>
<text x="1265.50" y="1040.20" font-size="7.2" text-anchor="start" fill="#1a1a1a" textLength="31.50" lengthAdjust="spacingAndGlyphs" font-family='"DejaVu Sans Condensed","Liberation Sans",sans-serif' stroke="#1a1a1a" stroke-width="0.3">25.02.08</text>
<text x="1306.00" y="1040.20" font-size="7.2" text-anchor="start" fill="#1a1a1a" textLength="15.50" lengthAdjust="spacingAndGlyphs" font-family='"DejaVu Sans Condensed","Liberation Sans",sans-serif' stroke="#1a1a1a" stroke-width="0.3">WSP</text>
<text x="1238.60" y="1051.00" font-size="7.2" text-anchor="start" fill="#1a1a1a" textLength="19.00" lengthAdjust="spacingAndGlyphs" font-family='"DejaVu Sans Condensed","Liberation Sans",sans-serif' stroke="#1a1a1a" stroke-width="0.3">Gepr.</text>
<text x="1265.50" y="1051.00" font-size="7.2" text-anchor="start" fill="#1a1a1a" textLength="30.00" lengthAdjust="spacingAndGlyphs" font-family='"DejaVu Sans Condensed","Liberation Sans",sans-serif' stroke="#1a1a1a" stroke-width="0.3">03.06.13</text>
<text x="1306.50" y="1051.00" font-size="7.2" text-anchor="start" fill="#1a1a1a" textLength="11.50" lengthAdjust="spacingAndGlyphs" font-family='"DejaVu Sans Condensed","Liberation Sans",sans-serif' stroke="#1a1a1a" stroke-width="0.3">JGe</text>
<text x="1238.60" y="1061.80" font-size="7.2" text-anchor="start" fill="#1a1a1a" textLength="19.00" lengthAdjust="spacingAndGlyphs" font-family='"DejaVu Sans Condensed","Liberation Sans",sans-serif' stroke="#1a1a1a" stroke-width="0.3">Vers.</text>
<text x="1238.60" y="1072.50" font-size="7.2" text-anchor="start" fill="#1a1a1a" textLength="22.00" lengthAdjust="spacingAndGlyphs" font-family='"DejaVu Sans Condensed","Liberation Sans",sans-serif' stroke="#1a1a1a" stroke-width="0.3">Status</text>
<text x="1265.50" y="1072.50" font-size="7.2" text-anchor="start" fill="#1a1a1a" textLength="30.00" lengthAdjust="spacingAndGlyphs" font-family='"DejaVu Sans Condensed","Liberation Sans",sans-serif' stroke="#1a1a1a" stroke-width="0.3">Freigabe</text>
<text x="1091.00" y="1104.60" font-size="7.2" text-anchor="start" fill="#1a1a1a" textLength="2.00" lengthAdjust="spacingAndGlyphs" font-family='"DejaVu Sans Condensed","Liberation Sans",sans-serif' stroke="#1a1a1a" stroke-width="0.3">.</text>
<text x="1112.50" y="1104.40" font-size="6" text-anchor="start" fill="#222" textLength="29.50" lengthAdjust="spacingAndGlyphs" font-family='"Liberation Sans","DejaVu Sans",sans-serif' font-weight="bold" >ÄM 074/12</text>
<text x="1182.50" y="1104.40" font-size="6" text-anchor="start" fill="#222" textLength="24.00" lengthAdjust="spacingAndGlyphs" font-family='"Liberation Sans","DejaVu Sans",sans-serif' font-weight="bold" >29.05.12</text>
<text x="1217.50" y="1104.40" font-size="6" text-anchor="start" fill="#222" textLength="12.50" lengthAdjust="spacingAndGlyphs" font-family='"Liberation Sans","DejaVu Sans",sans-serif' font-weight="bold" >WSP</text>
<text x="1091.00" y="1115.60" font-size="7.2" text-anchor="start" fill="#1a1a1a" textLength="17.50" lengthAdjust="spacingAndGlyphs" font-family='"DejaVu Sans Condensed","Liberation Sans",sans-serif' stroke="#1a1a1a" stroke-width="0.3">Zust.</text>
<text x="1112.50" y="1115.60" font-size="7.2" text-anchor="start" fill="#1a1a1a" textLength="34.50" lengthAdjust="spacingAndGlyphs" font-family='"DejaVu Sans Condensed","Liberation Sans",sans-serif' stroke="#1a1a1a" stroke-width="0.3">Aenderung</text>
<text x="1182.00" y="1115.60" font-size="7.2" text-anchor="start" fill="#1a1a1a" textLength="21.00" lengthAdjust="spacingAndGlyphs" font-family='"DejaVu Sans Condensed","Liberation Sans",sans-serif' stroke="#1a1a1a" stroke-width="0.3">Datum</text>
<text x="1217.00" y="1115.60" font-size="7.2" text-anchor="start" fill="#1a1a1a" textLength="17.00" lengthAdjust="spacingAndGlyphs" font-family='"DejaVu Sans Condensed","Liberation Sans",sans-serif' stroke="#1a1a1a" stroke-width="0.3">Name</text>
<text x="1238.50" y="1115.40" font-size="6" text-anchor="start" fill="#222" textLength="24.50" lengthAdjust="spacingAndGlyphs" font-family='"Liberation Sans","DejaVu Sans",sans-serif' font-weight="bold" >(Urspr.)</text>
<text x="1091.00" y="1029.20" font-size="5.6" text-anchor="start" fill="#222" textLength="127.50" lengthAdjust="spacingAndGlyphs" font-family='"Liberation Sans","DejaVu Sans",sans-serif' font-weight="bold" >Weitergabe sowie Vervielfältigung dieses</text>
<text x="1091.00" y="1036.07" font-size="5.6" text-anchor="start" fill="#222" textLength="116.50" lengthAdjust="spacingAndGlyphs" font-family='"Liberation Sans","DejaVu Sans",sans-serif' font-weight="bold" >Dokuments, Verwertung und Mitteilung</text>
<text x="1091.00" y="1042.94" font-size="5.6" text-anchor="start" fill="#222" textLength="131.00" lengthAdjust="spacingAndGlyphs" font-family='"Liberation Sans","DejaVu Sans",sans-serif' font-weight="bold" >seines Inhalts sind verboten, soweit nicht</text>
<text x="1091.00" y="1049.81" font-size="5.6" text-anchor="start" fill="#222" textLength="128.00" lengthAdjust="spacingAndGlyphs" font-family='"Liberation Sans","DejaVu Sans",sans-serif' font-weight="bold" >ausdrücklich gestattet. Zuwiderhandlungen</text>
<text x="1091.00" y="1056.68" font-size="5.6" text-anchor="start" fill="#222" textLength="131.00" lengthAdjust="spacingAndGlyphs" font-family='"Liberation Sans","DejaVu Sans",sans-serif' font-weight="bold" >verpflichten zu Schadenersatz. Alle Rechte</text>
<text x="1091.00" y="1063.55" font-size="5.6" text-anchor="start" fill="#222" textLength="133.50" lengthAdjust="spacingAndGlyphs" font-family='"Liberation Sans","DejaVu Sans",sans-serif' font-weight="bold" >für den Fall der Patent-, Gebrauchsmuster-</text>
<text x="1091.00" y="1070.42" font-size="5.6" text-anchor="start" fill="#222" textLength="140.50" lengthAdjust="spacingAndGlyphs" font-family='"Liberation Sans","DejaVu Sans",sans-serif' font-weight="bold" >oder Geschmacksmustereintragung vorbehalten.</text>
<text x="1236.80" y="1127.50" font-size="5.6" text-anchor="start" fill="#222" textLength="103.50" lengthAdjust="spacingAndGlyphs" font-family='"Liberation Sans","DejaVu Sans",sans-serif' font-weight="bold" >(Dateiname Modell:) M-TK-1818-GLATT</text>
<text x="1402.60" y="1127.50" font-size="5.6" text-anchor="start" fill="#222" textLength="114.00" lengthAdjust="spacingAndGlyphs" font-family='"Liberation Sans","DejaVu Sans",sans-serif' font-weight="bold" >(Dateiname Zeichnung:) M-TK-1818-GLATT</text>
<line x1="1082.80" y1="1119.00" x2="1082.80" y2="1124.00" stroke="#3a3a3a" stroke-width="1.1"/>
<rect x="1240.20" y="1077.00" width="25.00" height="26.30" rx="0.5" stroke="#333" stroke-width="1.5" fill="#fff"/>
<rect x="1241.60" y="1078.40" width="22.20" height="23.50" rx="0.3" stroke="#555" stroke-width="0.7" fill="none"/>
<rect x="1251.90" y="1078.60" width="2.30" height="15.00" rx="0.6" stroke="#2a2a2a" stroke-width="0.8" fill="#fff"/>
<text x="1252.70" y="1101.00" font-size="18.7" text-anchor="middle" fill="#fff" textLength="22.00" lengthAdjust="spacingAndGlyphs" font-family='"Liberation Sans","DejaVu Sans",sans-serif' stroke="#2a2a2a" stroke-width="0.85" stroke-linejoin="round">els</text>
<rect x="1302.20" y="1078.20" width="2.30" height="15.00" rx="1.1" stroke="#2a2a2a" stroke-width="0.8" fill="#fff"/>
<rect x="1314.10" y="1078.20" width="2.30" height="15.00" rx="1.1" stroke="#2a2a2a" stroke-width="0.8" fill="#fff"/>
<text x="1273.00" y="1101.00" font-size="18.7" text-anchor="start" fill="#fff" textLength="75.50" lengthAdjust="spacingAndGlyphs" font-family='"Liberation Sans","DejaVu Sans",sans-serif' stroke="#2a2a2a" stroke-width="0.85" stroke-linejoin="round">spelsberg</text>
</svg></body></html>
